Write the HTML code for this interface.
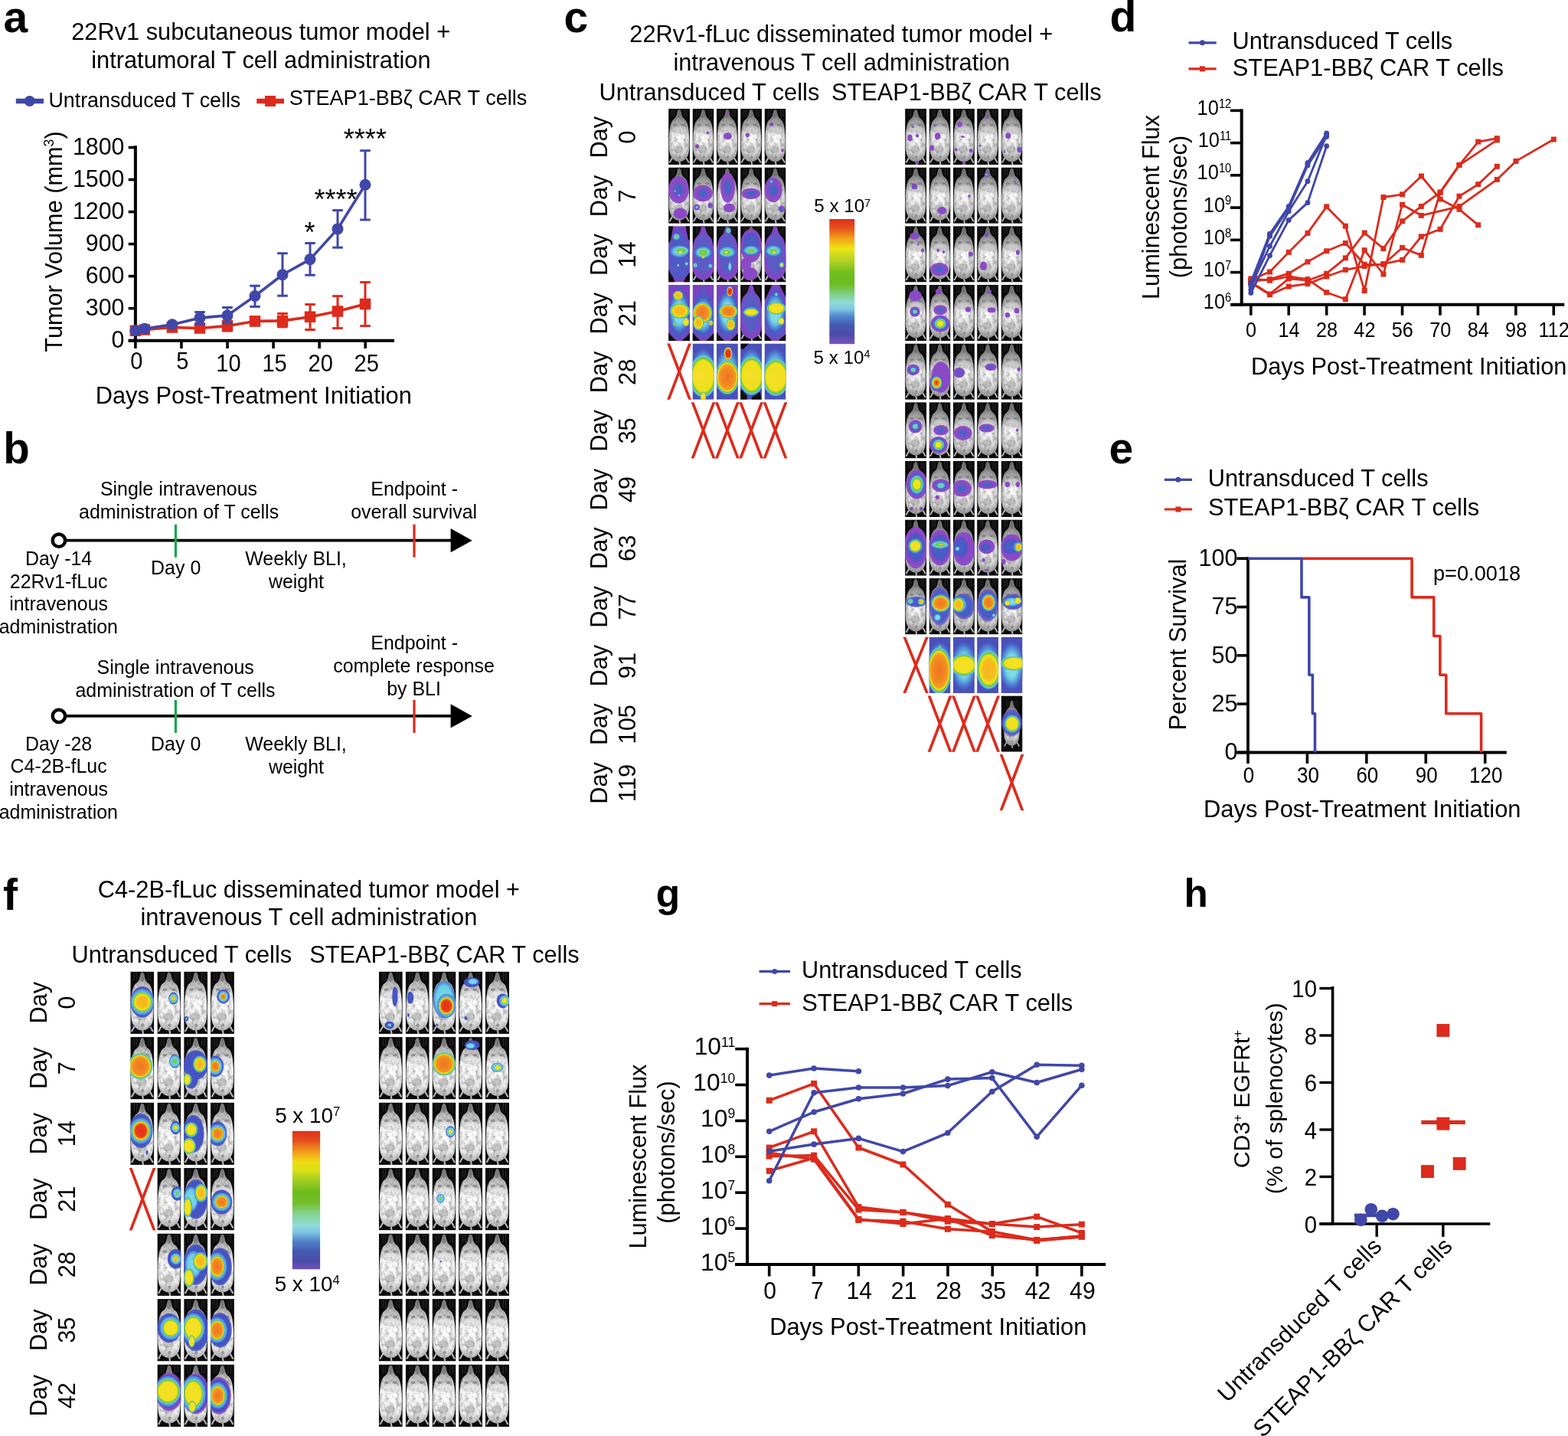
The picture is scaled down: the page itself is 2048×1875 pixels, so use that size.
<!DOCTYPE html>
<html lang="en"><head><meta charset="utf-8"><title>STEAP1 CAR T cell figure</title>
<style>
html,body{margin:0;padding:0;background:#fff}
body{width:2048px;height:1875px;overflow:hidden}
svg{display:block;font-family:'Liberation Sans', Arial, Helvetica, sans-serif}
</style></head><body>
<svg width="2048" height="1875" viewBox="0 0 2048 1875">
<defs><linearGradient id="cb" x1="0" y1="0" x2="0" y2="1"><stop offset="0" stop-color="#de2c1c"/><stop offset="0.07" stop-color="#e4501c"/><stop offset="0.15" stop-color="#f29a1b"/><stop offset="0.235" stop-color="#ede511"/><stop offset="0.33" stop-color="#b4d325"/><stop offset="0.43" stop-color="#70bd1d"/><stop offset="0.52" stop-color="#6cbc22"/><stop offset="0.6" stop-color="#80cf86"/><stop offset="0.67" stop-color="#8fdcd6"/><stop offset="0.72" stop-color="#7fc7e4"/><stop offset="0.78" stop-color="#4f86cc"/><stop offset="0.85" stop-color="#4559b2"/><stop offset="0.92" stop-color="#4a4daa"/><stop offset="1" stop-color="#7b52bd"/></linearGradient><linearGradient id="cbf" x1="0" y1="0" x2="0" y2="1"><stop offset="0" stop-color="#de2c1c"/><stop offset="0.07" stop-color="#e4501c"/><stop offset="0.15" stop-color="#f29a1b"/><stop offset="0.22" stop-color="#f0d912"/><stop offset="0.28" stop-color="#dde216"/><stop offset="0.36" stop-color="#a0cc22"/><stop offset="0.44" stop-color="#6cbc1c"/><stop offset="0.52" stop-color="#72bf2a"/><stop offset="0.6" stop-color="#86d394"/><stop offset="0.68" stop-color="#8fdcd6"/><stop offset="0.73" stop-color="#7fc7e4"/><stop offset="0.8" stop-color="#4f80c8"/><stop offset="0.87" stop-color="#4559b2"/><stop offset="0.94" stop-color="#4a4daa"/><stop offset="1" stop-color="#7250b8"/></linearGradient><radialGradient id="p1"><stop offset="0" stop-color="#8a49c6"/><stop offset="0.85" stop-color="#8a49c6"/><stop offset="1" stop-color="#8a49c6" stop-opacity="0.9"/></radialGradient><radialGradient id="p2"><stop offset="0" stop-color="#4a63c4"/><stop offset="0.35" stop-color="#4a63c4"/><stop offset="0.6" stop-color="#8a49c6"/><stop offset="1" stop-color="#8a49c6" stop-opacity="0.95"/></radialGradient><radialGradient id="p3"><stop offset="0" stop-color="#6cc634"/><stop offset="0.15" stop-color="#74d6a0"/><stop offset="0.3" stop-color="#62cfe2"/><stop offset="0.5" stop-color="#4a63c4"/><stop offset="0.75" stop-color="#8a49c6"/><stop offset="1" stop-color="#8a49c6" stop-opacity="0.95"/></radialGradient><radialGradient id="p4"><stop offset="0" stop-color="#f1e21c"/><stop offset="0.3" stop-color="#f1e21c"/><stop offset="0.42" stop-color="#6cc634"/><stop offset="0.52" stop-color="#62cfe2"/><stop offset="0.68" stop-color="#4a63c4"/><stop offset="0.85" stop-color="#8a49c6"/><stop offset="1" stop-color="#8a49c6" stop-opacity="0.95"/></radialGradient><radialGradient id="p5"><stop offset="0" stop-color="#f6a21e"/><stop offset="0.3" stop-color="#f6a21e"/><stop offset="0.46" stop-color="#f1e21c"/><stop offset="0.56" stop-color="#6cc634"/><stop offset="0.64" stop-color="#62cfe2"/><stop offset="0.76" stop-color="#4a63c4"/><stop offset="0.9" stop-color="#8a49c6"/><stop offset="1" stop-color="#8a49c6" stop-opacity="0.95"/></radialGradient><radialGradient id="p6"><stop offset="0" stop-color="#e3391c"/><stop offset="0.22" stop-color="#ea5a1c"/><stop offset="0.4" stop-color="#f6a21e"/><stop offset="0.52" stop-color="#f1e21c"/><stop offset="0.6" stop-color="#6cc634"/><stop offset="0.67" stop-color="#62cfe2"/><stop offset="0.78" stop-color="#4a63c4"/><stop offset="0.9" stop-color="#8a49c6"/><stop offset="1" stop-color="#8a49c6" stop-opacity="0.95"/></radialGradient><radialGradient id="b1"><stop offset="0" stop-color="#4458c2"/><stop offset="0.85" stop-color="#4458c2"/><stop offset="1" stop-color="#4458c2" stop-opacity="0.9"/></radialGradient><radialGradient id="b2"><stop offset="0" stop-color="#4a63c4"/><stop offset="0.45" stop-color="#4a63c4"/><stop offset="0.68" stop-color="#4458c2"/><stop offset="1" stop-color="#4458c2" stop-opacity="0.95"/></radialGradient><radialGradient id="b3"><stop offset="0" stop-color="#6cc634"/><stop offset="0.2" stop-color="#74d6a0"/><stop offset="0.38" stop-color="#62cfe2"/><stop offset="0.6" stop-color="#4a63c4"/><stop offset="0.8" stop-color="#4458c2"/><stop offset="1" stop-color="#4458c2" stop-opacity="0.95"/></radialGradient><radialGradient id="b4"><stop offset="0" stop-color="#f1e21c"/><stop offset="0.45" stop-color="#f1e21c"/><stop offset="0.56" stop-color="#6cc634"/><stop offset="0.66" stop-color="#62cfe2"/><stop offset="0.8" stop-color="#4a63c4"/><stop offset="0.92" stop-color="#4458c2"/><stop offset="1" stop-color="#4458c2" stop-opacity="0.95"/></radialGradient><radialGradient id="b5"><stop offset="0" stop-color="#f6a21e"/><stop offset="0.4" stop-color="#f6a21e"/><stop offset="0.55" stop-color="#f1e21c"/><stop offset="0.64" stop-color="#6cc634"/><stop offset="0.72" stop-color="#62cfe2"/><stop offset="0.83" stop-color="#4a63c4"/><stop offset="0.94" stop-color="#4458c2"/><stop offset="1" stop-color="#4458c2" stop-opacity="0.95"/></radialGradient><radialGradient id="b6"><stop offset="0" stop-color="#e3391c"/><stop offset="0.3" stop-color="#ea5a1c"/><stop offset="0.5" stop-color="#f6a21e"/><stop offset="0.62" stop-color="#f1e21c"/><stop offset="0.69" stop-color="#6cc634"/><stop offset="0.75" stop-color="#62cfe2"/><stop offset="0.85" stop-color="#4a63c4"/><stop offset="0.94" stop-color="#4458c2"/><stop offset="1" stop-color="#4458c2" stop-opacity="0.95"/></radialGradient><radialGradient id="cy"><stop offset="0" stop-color="#86e2e6"/><stop offset="0.45" stop-color="#7ad8e4"/><stop offset="0.72" stop-color="#4f8fd8"/><stop offset="0.9" stop-color="#4a5cc4" stop-opacity="0.9"/><stop offset="1" stop-color="#4a58c0" stop-opacity="0"/></radialGradient><radialGradient id="bu"><stop offset="0" stop-color="#4a60c8"/><stop offset="0.7" stop-color="#4a5ac4"/><stop offset="0.9" stop-color="#5a50c2" stop-opacity="0.8"/><stop offset="1" stop-color="#6a48c0" stop-opacity="0"/></radialGradient><radialGradient id="h3"><stop offset="0" stop-color="#a4dc3a"/><stop offset="0.45" stop-color="#6cc634"/><stop offset="0.7" stop-color="#72d8b0"/><stop offset="0.85" stop-color="#62cfe2"/><stop offset="1" stop-color="#5aa6e6" stop-opacity="0.6"/></radialGradient><radialGradient id="bu2"><stop offset="0" stop-color="#4658c6"/><stop offset="0.86" stop-color="#4452c2"/><stop offset="1" stop-color="#4450c0" stop-opacity="0.8"/></radialGradient><radialGradient id="cy2"><stop offset="0" stop-color="#7adce6"/><stop offset="0.72" stop-color="#6ccfe6"/><stop offset="1" stop-color="#4a78d4"/></radialGradient><radialGradient id="pu2"><stop offset="0" stop-color="#7c48c2"/><stop offset="0.88" stop-color="#7c48c2"/><stop offset="1" stop-color="#7c48c2" stop-opacity="0.7"/></radialGradient><radialGradient id="h4"><stop offset="0" stop-color="#f6e02a"/><stop offset="0.72" stop-color="#f0e01c"/><stop offset="0.84" stop-color="#6cc634"/><stop offset="0.92" stop-color="#62cfe2"/><stop offset="1" stop-color="#5a9ee0" stop-opacity="0.7"/></radialGradient><radialGradient id="h5"><stop offset="0" stop-color="#f6b022"/><stop offset="0.5" stop-color="#f5c01e"/><stop offset="0.72" stop-color="#f1e21c"/><stop offset="0.84" stop-color="#6cc634"/><stop offset="0.92" stop-color="#62cfe2"/><stop offset="1" stop-color="#5a9ee0" stop-opacity="0.7"/></radialGradient><radialGradient id="h6"><stop offset="0" stop-color="#ee7422"/><stop offset="0.55" stop-color="#f28c20"/><stop offset="0.72" stop-color="#f6a21e"/><stop offset="0.8" stop-color="#f1e21c"/><stop offset="0.88" stop-color="#6cc634"/><stop offset="0.94" stop-color="#62cfe2"/><stop offset="1" stop-color="#5a9ee0" stop-opacity="0.7"/></radialGradient><radialGradient id="h7"><stop offset="0" stop-color="#e2301c"/><stop offset="0.6" stop-color="#e8401c"/><stop offset="0.75" stop-color="#f6a21e"/><stop offset="0.83" stop-color="#f1e21c"/><stop offset="0.9" stop-color="#6cc634"/><stop offset="0.95" stop-color="#62cfe2"/><stop offset="1" stop-color="#5a9ee0" stop-opacity="0.7"/></radialGradient><radialGradient id="mg" cx="0.5" cy="0.56" r="0.72"><stop offset="0" stop-color="#ffffff"/><stop offset="0.6" stop-color="#f2f2f2"/><stop offset="0.82" stop-color="#d0d0d0"/><stop offset="1" stop-color="#8c8c8c"/></radialGradient><filter id="bl" x="-10%" y="-10%" width="120%" height="120%"><feGaussianBlur stdDeviation="2.2"/></filter><filter id="bl2" x="-20%" y="-20%" width="140%" height="140%"><feGaussianBlur stdDeviation="3.5"/></filter><filter id="tex" x="-5%" y="-5%" width="110%" height="110%"><feTurbulence type="fractalNoise" baseFrequency="0.07 0.05" numOctaves="3" seed="7" result="n"/><feColorMatrix in="n" type="matrix" values="0 0 0 0 0.2  0 0 0 0 0.2  0 0 0 0 0.2  1.9 0 0 0 -0.82" result="a"/><feComposite in="a" in2="SourceAlpha" operator="in" result="d"/><feMerge><feMergeNode in="SourceGraphic"/><feMergeNode in="d"/></feMerge><feGaussianBlur stdDeviation="1.8"/></filter><linearGradient id="shade" x1="0" y1="0" x2="0" y2="1"><stop offset="0" stop-color="#000" stop-opacity="0.5"/><stop offset="0.32" stop-color="#000" stop-opacity="0.22"/><stop offset="0.5" stop-color="#000" stop-opacity="0"/><stop offset="0.8" stop-color="#000" stop-opacity="0.05"/><stop offset="1" stop-color="#000" stop-opacity="0.3"/></linearGradient><radialGradient id="mg2" cx="0.5" cy="0.56" r="0.66"><stop offset="0" stop-color="#ffffff"/><stop offset="0.5" stop-color="#ececec"/><stop offset="0.8" stop-color="#bcbcbc"/><stop offset="1" stop-color="#6c6c6c"/></radialGradient><linearGradient id="shade2" x1="0" y1="0" x2="0" y2="1"><stop offset="0" stop-color="#000" stop-opacity="0.38"/><stop offset="0.3" stop-color="#000" stop-opacity="0.14"/><stop offset="0.46" stop-color="#000" stop-opacity="0"/><stop offset="0.82" stop-color="#000" stop-opacity="0.03"/><stop offset="1" stop-color="#000" stop-opacity="0.25"/></linearGradient><symbol id="m" viewBox="0 0 100 262" preserveAspectRatio="none"><rect width="100" height="262" fill="#0b0b0b"/><rect x="16" y="2" width="2.5" height="36" fill="#333"/><rect x="26" y="2" width="2.5" height="36" fill="#333"/><rect x="74" y="2" width="2.5" height="36" fill="#333"/><rect x="84" y="2" width="2.5" height="36" fill="#333"/><g filter="url(#tex)"><path d="M20 226 L6 250 M80 226 L94 250 M50 240 L54 262" stroke="#bdbdbd" stroke-width="7" fill="none" stroke-linecap="round"/><path d="M50 4 C45 4 42 12 40 24 C38 38 32 44 24 50 C12 60 6 84 4 116 C2 150 1 190 7 212 C13 233 32 247 50 248 C68 247 87 233 93 212 C99 190 98 150 96 116 C94 84 88 60 76 50 C68 44 62 38 60 24 C58 12 55 4 50 4 Z" fill="url(#mg2)"/><path d="M50 4 C45 4 42 12 40 24 C38 38 32 44 24 50 C12 60 6 84 4 116 C2 150 1 190 7 212 C13 233 32 247 50 248 C68 247 87 233 93 212 C99 190 98 150 96 116 C94 84 88 60 76 50 C68 44 62 38 60 24 C58 12 55 4 50 4 Z" fill="url(#shade)"/><ellipse cx="50" cy="24" rx="10" ry="20" fill="#6e6e6e" opacity="0.7"/><ellipse cx="32" cy="76" rx="9" ry="6" fill="#5a5a5a" opacity="0.55"/><ellipse cx="68" cy="76" rx="9" ry="6" fill="#5a5a5a" opacity="0.55"/><ellipse cx="46" cy="190" rx="22" ry="16" fill="#8a8a8a" opacity="0.45"/><ellipse cx="52" cy="226" rx="7" ry="7" fill="#7a7a7a" opacity="0.6"/></g></symbol><symbol id="mf" viewBox="0 0 100 262" preserveAspectRatio="none"><rect width="100" height="262" fill="#0b0b0b"/><rect x="16" y="2" width="2.5" height="36" fill="#333"/><rect x="26" y="2" width="2.5" height="36" fill="#333"/><rect x="74" y="2" width="2.5" height="36" fill="#333"/><rect x="84" y="2" width="2.5" height="36" fill="#333"/><g filter="url(#tex)"><path d="M20 226 L6 250 M80 226 L94 250 M50 240 L54 262" stroke="#bdbdbd" stroke-width="7" fill="none" stroke-linecap="round"/><path d="M50 4 C45 4 42 12 40 24 C38 38 32 44 24 50 C12 60 6 84 4 116 C2 150 1 190 7 212 C13 233 32 247 50 248 C68 247 87 233 93 212 C99 190 98 150 96 116 C94 84 88 60 76 50 C68 44 62 38 60 24 C58 12 55 4 50 4 Z" fill="url(#mg)"/><path d="M50 4 C45 4 42 12 40 24 C38 38 32 44 24 50 C12 60 6 84 4 116 C2 150 1 190 7 212 C13 233 32 247 50 248 C68 247 87 233 93 212 C99 190 98 150 96 116 C94 84 88 60 76 50 C68 44 62 38 60 24 C58 12 55 4 50 4 Z" fill="url(#shade2)"/><ellipse cx="50" cy="24" rx="10" ry="20" fill="#6e6e6e" opacity="0.7"/><ellipse cx="32" cy="76" rx="9" ry="6" fill="#5a5a5a" opacity="0.55"/><ellipse cx="68" cy="76" rx="9" ry="6" fill="#5a5a5a" opacity="0.55"/><ellipse cx="46" cy="190" rx="22" ry="16" fill="#8a8a8a" opacity="0.45"/><ellipse cx="52" cy="226" rx="7" ry="7" fill="#7a7a7a" opacity="0.6"/></g></symbol></defs>
<rect width="2048" height="1875" fill="#fff"/>
<text x="4.50" y="41.80" font-size="57" font-weight="bold">a</text><text x="4.20" y="604.80" font-size="56.5" font-weight="bold">b</text><text x="736.50" y="42.00" font-size="57" font-weight="bold">c</text><text x="1449.50" y="41.30" font-size="57" font-weight="bold">d</text><text x="1448.50" y="605.00" font-size="57" font-weight="bold">e</text><text x="4.00" y="1188.20" font-size="57" font-weight="bold">f</text><text x="856.80" y="1183.70" font-size="51.5" font-weight="bold">g</text><text x="1546.40" y="1183.60" font-size="51.2" font-weight="bold">h</text><text x="340.70" y="51.80" font-size="30.75" text-anchor="middle">22Rv1 subcutaneous tumor model +</text><text x="340.90" y="88.80" font-size="30.75" text-anchor="middle">intratumoral T cell administration</text><line x1="20.80" y1="132.00" x2="57.00" y2="132.00" stroke="#4047a8" stroke-width="6.5"/><circle cx="38.70" cy="132.00" r="7.00" fill="#4047a8"/><text x="63.50" y="140.20" font-size="26.8">Untransduced T cells</text><line x1="335.30" y1="132.00" x2="371.00" y2="132.00" stroke="#dc2b1c" stroke-width="6.5"/><rect x="346.00" y="125.00" width="14.00" height="14.00" fill="#dc2b1c"/><text x="377.80" y="137.30" font-size="27.1">STEAP1-BBζ CAR T cells</text><line x1="176.90" y1="190.20" x2="176.90" y2="446.70" stroke="#000" stroke-width="4"/><line x1="167.70" y1="444.70" x2="515.00" y2="444.70" stroke="#000" stroke-width="4"/><line x1="167.70" y1="444.70" x2="176.90" y2="444.70" stroke="#000" stroke-width="3.6"/><text transform="translate(162.40 454.30) scale(0.945 1)" font-size="32.1" text-anchor="end">0</text><line x1="167.70" y1="402.67" x2="176.90" y2="402.67" stroke="#000" stroke-width="3.6"/><text transform="translate(162.40 412.27) scale(0.945 1)" font-size="32.1" text-anchor="end">300</text><line x1="167.70" y1="360.64" x2="176.90" y2="360.64" stroke="#000" stroke-width="3.6"/><text transform="translate(162.40 370.24) scale(0.945 1)" font-size="32.1" text-anchor="end">600</text><line x1="167.70" y1="318.61" x2="176.90" y2="318.61" stroke="#000" stroke-width="3.6"/><text transform="translate(162.40 328.21) scale(0.945 1)" font-size="32.1" text-anchor="end">900</text><line x1="167.70" y1="276.58" x2="176.90" y2="276.58" stroke="#000" stroke-width="3.6"/><text transform="translate(162.40 286.18) scale(0.945 1)" font-size="32.1" text-anchor="end">1200</text><line x1="167.70" y1="234.55" x2="176.90" y2="234.55" stroke="#000" stroke-width="3.6"/><text transform="translate(162.40 244.15) scale(0.945 1)" font-size="32.1" text-anchor="end">1500</text><line x1="167.70" y1="192.52" x2="176.90" y2="192.52" stroke="#000" stroke-width="3.6"/><text transform="translate(162.40 202.12) scale(0.945 1)" font-size="32.1" text-anchor="end">1800</text><line x1="176.90" y1="444.70" x2="176.90" y2="455.00" stroke="#000" stroke-width="3.6"/><text transform="translate(178.40 481.80) scale(0.9 1)" font-size="32.3" text-anchor="middle">0</text><line x1="236.96" y1="444.70" x2="236.96" y2="455.00" stroke="#000" stroke-width="3.6"/><text transform="translate(238.46 481.80) scale(0.9 1)" font-size="32.3" text-anchor="middle">5</text><line x1="297.02" y1="444.70" x2="297.02" y2="455.00" stroke="#000" stroke-width="3.6"/><text transform="translate(298.52 485.40) scale(0.9 1)" font-size="32.3" text-anchor="middle">10</text><line x1="357.08" y1="444.70" x2="357.08" y2="455.00" stroke="#000" stroke-width="3.6"/><text transform="translate(358.58 485.40) scale(0.9 1)" font-size="32.3" text-anchor="middle">15</text><line x1="417.14" y1="444.70" x2="417.14" y2="455.00" stroke="#000" stroke-width="3.6"/><text transform="translate(418.64 485.40) scale(0.9 1)" font-size="32.3" text-anchor="middle">20</text><line x1="477.20" y1="444.70" x2="477.20" y2="455.00" stroke="#000" stroke-width="3.6"/><text transform="translate(478.70 485.40) scale(0.9 1)" font-size="32.3" text-anchor="middle">25</text><text x="331.30" y="526.80" font-size="30.8" text-anchor="middle">Days Post-Treatment Initiation</text><text transform="translate(80.90 315.50) rotate(-90)" font-size="30.7" text-anchor="middle">Tumor Volume (mm<tspan font-size="58%" dy="-0.6em">3</tspan><tspan dy="0.348em">)</tspan></text><line x1="261.00" y1="424.00" x2="261.00" y2="433.00" stroke="#dc2b1c" stroke-width="3"/><line x1="254.20" y1="424.00" x2="267.80" y2="424.00" stroke="#dc2b1c" stroke-width="3"/><line x1="254.20" y1="433.00" x2="267.80" y2="433.00" stroke="#dc2b1c" stroke-width="3"/><line x1="297.00" y1="419.00" x2="297.00" y2="432.00" stroke="#dc2b1c" stroke-width="3"/><line x1="290.20" y1="419.00" x2="303.80" y2="419.00" stroke="#dc2b1c" stroke-width="3"/><line x1="290.20" y1="432.00" x2="303.80" y2="432.00" stroke="#dc2b1c" stroke-width="3"/><line x1="333.00" y1="414.00" x2="333.00" y2="425.00" stroke="#dc2b1c" stroke-width="3"/><line x1="326.20" y1="414.00" x2="339.80" y2="414.00" stroke="#dc2b1c" stroke-width="3"/><line x1="326.20" y1="425.00" x2="339.80" y2="425.00" stroke="#dc2b1c" stroke-width="3"/><line x1="369.00" y1="409.40" x2="369.00" y2="426.80" stroke="#dc2b1c" stroke-width="3"/><line x1="362.20" y1="409.40" x2="375.80" y2="409.40" stroke="#dc2b1c" stroke-width="3"/><line x1="362.20" y1="426.80" x2="375.80" y2="426.80" stroke="#dc2b1c" stroke-width="3"/><line x1="405.00" y1="397.50" x2="405.00" y2="430.50" stroke="#dc2b1c" stroke-width="3"/><line x1="398.20" y1="397.50" x2="411.80" y2="397.50" stroke="#dc2b1c" stroke-width="3"/><line x1="398.20" y1="430.50" x2="411.80" y2="430.50" stroke="#dc2b1c" stroke-width="3"/><line x1="441.00" y1="386.60" x2="441.00" y2="428.50" stroke="#dc2b1c" stroke-width="3"/><line x1="434.20" y1="386.60" x2="447.80" y2="386.60" stroke="#dc2b1c" stroke-width="3"/><line x1="434.20" y1="428.50" x2="447.80" y2="428.50" stroke="#dc2b1c" stroke-width="3"/><line x1="477.00" y1="368.50" x2="477.00" y2="425.60" stroke="#dc2b1c" stroke-width="3"/><line x1="470.20" y1="368.50" x2="483.80" y2="368.50" stroke="#dc2b1c" stroke-width="3"/><line x1="470.20" y1="425.60" x2="483.80" y2="425.60" stroke="#dc2b1c" stroke-width="3"/><polyline points="176.9,431.8 188.9,430.5 224.9,427.5 261.0,428.5 297.0,425.6 333.0,419.4 369.0,418.9 405.0,413.7 441.0,406.5 477.0,397.0" fill="none" stroke="#dc2b1c" stroke-width="3.6" stroke-linejoin="round"/><rect x="169.65" y="424.55" width="14.50" height="14.50" fill="#dc2b1c"/><rect x="181.65" y="423.25" width="14.50" height="14.50" fill="#dc2b1c"/><rect x="217.65" y="420.25" width="14.50" height="14.50" fill="#dc2b1c"/><rect x="253.75" y="421.25" width="14.50" height="14.50" fill="#dc2b1c"/><rect x="289.75" y="418.35" width="14.50" height="14.50" fill="#dc2b1c"/><rect x="325.75" y="412.15" width="14.50" height="14.50" fill="#dc2b1c"/><rect x="361.75" y="411.65" width="14.50" height="14.50" fill="#dc2b1c"/><rect x="397.75" y="406.45" width="14.50" height="14.50" fill="#dc2b1c"/><rect x="433.75" y="399.25" width="14.50" height="14.50" fill="#dc2b1c"/><rect x="469.75" y="389.75" width="14.50" height="14.50" fill="#dc2b1c"/><line x1="261.00" y1="407.50" x2="261.00" y2="423.00" stroke="#4047a8" stroke-width="3"/><line x1="254.20" y1="407.50" x2="267.80" y2="407.50" stroke="#4047a8" stroke-width="3"/><line x1="254.20" y1="423.00" x2="267.80" y2="423.00" stroke="#4047a8" stroke-width="3"/><line x1="297.00" y1="401.50" x2="297.00" y2="421.80" stroke="#4047a8" stroke-width="3"/><line x1="290.20" y1="401.50" x2="303.80" y2="401.50" stroke="#4047a8" stroke-width="3"/><line x1="290.20" y1="421.80" x2="303.80" y2="421.80" stroke="#4047a8" stroke-width="3"/><line x1="333.00" y1="373.20" x2="333.00" y2="400.40" stroke="#4047a8" stroke-width="3"/><line x1="326.20" y1="373.20" x2="339.80" y2="373.20" stroke="#4047a8" stroke-width="3"/><line x1="326.20" y1="400.40" x2="339.80" y2="400.40" stroke="#4047a8" stroke-width="3"/><line x1="369.00" y1="330.75" x2="369.00" y2="386.20" stroke="#4047a8" stroke-width="3"/><line x1="362.20" y1="330.75" x2="375.80" y2="330.75" stroke="#4047a8" stroke-width="3"/><line x1="362.20" y1="386.20" x2="375.80" y2="386.20" stroke="#4047a8" stroke-width="3"/><line x1="405.00" y1="317.50" x2="405.00" y2="359.20" stroke="#4047a8" stroke-width="3"/><line x1="398.20" y1="317.50" x2="411.80" y2="317.50" stroke="#4047a8" stroke-width="3"/><line x1="398.20" y1="359.20" x2="411.80" y2="359.20" stroke="#4047a8" stroke-width="3"/><line x1="441.00" y1="274.60" x2="441.00" y2="323.20" stroke="#4047a8" stroke-width="3"/><line x1="434.20" y1="274.60" x2="447.80" y2="274.60" stroke="#4047a8" stroke-width="3"/><line x1="434.20" y1="323.20" x2="447.80" y2="323.20" stroke="#4047a8" stroke-width="3"/><line x1="477.00" y1="196.70" x2="477.00" y2="287.00" stroke="#4047a8" stroke-width="3"/><line x1="470.20" y1="196.70" x2="483.80" y2="196.70" stroke="#4047a8" stroke-width="3"/><line x1="470.20" y1="287.00" x2="483.80" y2="287.00" stroke="#4047a8" stroke-width="3"/><polyline points="176.9,431.8 188.9,429.3 224.9,423.8 261.0,415.1 297.0,411.9 333.0,386.5 369.0,358.8 405.0,338.6 441.0,298.9 477.0,241.3" fill="none" stroke="#4047a8" stroke-width="3.6" stroke-linejoin="round"/><circle cx="176.90" cy="431.80" r="7.50" fill="#4047a8"/><circle cx="188.90" cy="429.30" r="7.50" fill="#4047a8"/><circle cx="224.90" cy="423.80" r="7.50" fill="#4047a8"/><circle cx="261.00" cy="415.10" r="7.50" fill="#4047a8"/><circle cx="297.00" cy="411.90" r="7.50" fill="#4047a8"/><circle cx="333.00" cy="386.50" r="7.50" fill="#4047a8"/><circle cx="369.00" cy="358.80" r="7.50" fill="#4047a8"/><circle cx="405.00" cy="338.60" r="7.50" fill="#4047a8"/><circle cx="441.00" cy="298.90" r="7.50" fill="#4047a8"/><circle cx="477.00" cy="241.30" r="7.50" fill="#4047a8"/><text x="476.80" y="194.20" font-size="36" text-anchor="middle">****</text><text x="438.40" y="272.80" font-size="36" text-anchor="middle">****</text><text x="404.50" y="315.60" font-size="36" text-anchor="middle">*</text><line x1="86.00" y1="705.70" x2="592.00" y2="705.70" stroke="#000" stroke-width="3.8"/><circle cx="76.9" cy="705.7" r="8.2" fill="#fff" stroke="#000" stroke-width="4.4"/><path d="M588.6 690.1 L616.8 705.7 L588.6 721.3000000000001 Z" fill="#000"/><line x1="229.40" y1="684.70" x2="229.40" y2="727.70" stroke="#14a84b" stroke-width="3.2"/><line x1="541.00" y1="684.70" x2="541.00" y2="727.70" stroke="#dc2b1c" stroke-width="3.2"/><text x="233.50" y="647.30" font-size="24.95" text-anchor="middle">Single intravenous</text><text x="233.60" y="677.00" font-size="24.95" text-anchor="middle">administration of T cells</text><text x="541.20" y="647.30" font-size="24.95" text-anchor="middle">Endpoint -</text><text x="540.60" y="677.00" font-size="24.95" text-anchor="middle">overall survival</text><text x="229.70" y="749.60" font-size="24.95" text-anchor="middle">Day 0</text><text x="386.50" y="738.40" font-size="24.95" text-anchor="middle">Weekly BLI,</text><text x="387.00" y="768.20" font-size="24.95" text-anchor="middle">weight</text><text x="76.60" y="738.00" font-size="24.95" text-anchor="middle">Day -14</text><text x="76.60" y="767.70" font-size="24.95" text-anchor="middle">22Rv1-fLuc</text><text x="76.60" y="797.20" font-size="24.95" text-anchor="middle">intravenous</text><text x="76.30" y="827.40" font-size="24.95" text-anchor="middle">administration</text><line x1="86.00" y1="934.90" x2="592.00" y2="934.90" stroke="#000" stroke-width="3.8"/><circle cx="76.9" cy="934.9" r="8.2" fill="#fff" stroke="#000" stroke-width="4.4"/><path d="M588.6 919.3 L616.8 934.9 L588.6 950.5 Z" fill="#000"/><line x1="229.40" y1="913.90" x2="229.40" y2="956.90" stroke="#14a84b" stroke-width="3.2"/><line x1="541.00" y1="913.90" x2="541.00" y2="956.90" stroke="#dc2b1c" stroke-width="3.2"/><text x="229.20" y="879.60" font-size="24.95" text-anchor="middle">Single intravenous</text><text x="229.00" y="909.90" font-size="24.95" text-anchor="middle">administration of T cells</text><text x="541.20" y="847.80" font-size="24.95" text-anchor="middle">Endpoint -</text><text x="540.60" y="877.90" font-size="24.95" text-anchor="middle">complete response</text><text x="540.50" y="907.80" font-size="24.95" text-anchor="middle">by BLI</text><text x="229.70" y="979.60" font-size="24.95" text-anchor="middle">Day 0</text><text x="386.50" y="979.60" font-size="24.95" text-anchor="middle">Weekly BLI,</text><text x="387.00" y="1009.60" font-size="24.95" text-anchor="middle">weight</text><text x="76.60" y="979.60" font-size="24.95" text-anchor="middle">Day -28</text><text x="76.60" y="1009.30" font-size="24.95" text-anchor="middle">C4-2B-fLuc</text><text x="76.60" y="1038.80" font-size="24.95" text-anchor="middle">intravenous</text><text x="76.30" y="1069.00" font-size="24.95" text-anchor="middle">administration</text><text x="1098.80" y="55.10" font-size="30.75" text-anchor="middle">22Rv1-fLuc disseminated tumor model +</text><text x="1099.30" y="91.80" font-size="30.75" text-anchor="middle">intravenous T cell administration</text><text x="926.40" y="131.40" font-size="30.75" text-anchor="middle">Untransduced T cells</text><text x="1262.30" y="131.40" font-size="30.75" text-anchor="middle">STEAP1-BBζ CAR T cells</text><text transform="translate(793.40 179.25) rotate(-90)" font-size="30.75" text-anchor="middle">Day</text><text transform="translate(830.40 179.25) rotate(-90)" font-size="30.75" text-anchor="middle">0</text><text transform="translate(793.40 255.90) rotate(-90)" font-size="30.75" text-anchor="middle">Day</text><text transform="translate(830.40 255.90) rotate(-90)" font-size="30.75" text-anchor="middle">7</text><text transform="translate(793.40 332.55) rotate(-90)" font-size="30.75" text-anchor="middle">Day</text><text transform="translate(830.40 332.55) rotate(-90)" font-size="30.75" text-anchor="middle">14</text><text transform="translate(793.40 409.20) rotate(-90)" font-size="30.75" text-anchor="middle">Day</text><text transform="translate(830.40 409.20) rotate(-90)" font-size="30.75" text-anchor="middle">21</text><text transform="translate(793.40 485.85) rotate(-90)" font-size="30.75" text-anchor="middle">Day</text><text transform="translate(830.40 485.85) rotate(-90)" font-size="30.75" text-anchor="middle">28</text><text transform="translate(793.40 562.50) rotate(-90)" font-size="30.75" text-anchor="middle">Day</text><text transform="translate(830.40 562.50) rotate(-90)" font-size="30.75" text-anchor="middle">35</text><text transform="translate(793.40 639.15) rotate(-90)" font-size="30.75" text-anchor="middle">Day</text><text transform="translate(830.40 639.15) rotate(-90)" font-size="30.75" text-anchor="middle">49</text><text transform="translate(793.40 715.80) rotate(-90)" font-size="30.75" text-anchor="middle">Day</text><text transform="translate(830.40 715.80) rotate(-90)" font-size="30.75" text-anchor="middle">63</text><text transform="translate(793.40 792.45) rotate(-90)" font-size="30.75" text-anchor="middle">Day</text><text transform="translate(830.40 792.45) rotate(-90)" font-size="30.75" text-anchor="middle">77</text><text transform="translate(793.40 869.10) rotate(-90)" font-size="30.75" text-anchor="middle">Day</text><text transform="translate(830.40 869.10) rotate(-90)" font-size="30.75" text-anchor="middle">91</text><text transform="translate(793.40 945.75) rotate(-90)" font-size="30.75" text-anchor="middle">Day</text><text transform="translate(830.40 945.75) rotate(-90)" font-size="30.75" text-anchor="middle">105</text><text transform="translate(793.40 1022.40) rotate(-90)" font-size="30.75" text-anchor="middle">Day</text><text transform="translate(830.40 1022.40) rotate(-90)" font-size="30.75" text-anchor="middle">119</text><rect x="1083.3" y="286" width="32.9" height="163.2" fill="url(#cb)"/><text x="1100.20" y="277.30" font-size="24.2" text-anchor="middle">5 x 10<tspan font-size="60%" dy="-0.53em">7</tspan></text><text x="1099.60" y="474.50" font-size="24.2" text-anchor="middle">5 x 10<tspan font-size="60%" dy="-0.53em">4</tspan></text><line x1="1552.50" y1="55.80" x2="1588.70" y2="55.80" stroke="#4047a8" stroke-width="3.2"/><circle cx="1570.40" cy="55.80" r="3.50" fill="#4047a8"/><text x="1609.50" y="63.90" font-size="30.75">Untransduced T cells</text><line x1="1552.50" y1="89.90" x2="1588.70" y2="89.90" stroke="#dc2b1c" stroke-width="3.2"/><rect x="1566.90" y="86.40" width="7.00" height="7.00" fill="#dc2b1c"/><text x="1609.70" y="98.60" font-size="30.75" textLength="354.3" lengthAdjust="spacingAndGlyphs">STEAP1-BBζ CAR T cells</text><line x1="1621.70" y1="142.60" x2="1621.70" y2="399.85" stroke="#000" stroke-width="4"/><line x1="1608.30" y1="397.85" x2="2043.30" y2="397.85" stroke="#000" stroke-width="4"/><line x1="1607.00" y1="397.85" x2="1621.70" y2="397.85" stroke="#000" stroke-width="3.6"/><text transform="translate(1608.30 403.35) scale(0.915 1)" font-size="27.8" text-anchor="end">10<tspan font-size="58%" dy="-0.57em">6</tspan></text><line x1="1607.00" y1="355.60" x2="1621.70" y2="355.60" stroke="#000" stroke-width="3.6"/><text transform="translate(1608.30 361.10) scale(0.915 1)" font-size="27.8" text-anchor="end">10<tspan font-size="58%" dy="-0.57em">7</tspan></text><line x1="1607.00" y1="313.35" x2="1621.70" y2="313.35" stroke="#000" stroke-width="3.6"/><text transform="translate(1608.30 318.85) scale(0.915 1)" font-size="27.8" text-anchor="end">10<tspan font-size="58%" dy="-0.57em">8</tspan></text><line x1="1607.00" y1="271.10" x2="1621.70" y2="271.10" stroke="#000" stroke-width="3.6"/><text transform="translate(1608.30 276.60) scale(0.915 1)" font-size="27.8" text-anchor="end">10<tspan font-size="58%" dy="-0.57em">9</tspan></text><line x1="1607.00" y1="228.85" x2="1621.70" y2="228.85" stroke="#000" stroke-width="3.6"/><text transform="translate(1608.30 234.35) scale(0.915 1)" font-size="27.8" text-anchor="end">10<tspan font-size="58%" dy="-0.57em">10</tspan></text><line x1="1607.00" y1="186.60" x2="1621.70" y2="186.60" stroke="#000" stroke-width="3.6"/><text transform="translate(1608.30 192.10) scale(0.915 1)" font-size="27.8" text-anchor="end">10<tspan font-size="58%" dy="-0.57em">11</tspan></text><line x1="1607.00" y1="144.35" x2="1621.70" y2="144.35" stroke="#000" stroke-width="3.6"/><text transform="translate(1608.30 149.85) scale(0.915 1)" font-size="27.8" text-anchor="end">10<tspan font-size="58%" dy="-0.57em">12</tspan></text><line x1="1633.80" y1="397.85" x2="1633.80" y2="411.70" stroke="#000" stroke-width="3.6"/><text transform="translate(1634.10 440.00) scale(0.89 1)" font-size="28.4" text-anchor="middle">0</text><line x1="1683.23" y1="397.85" x2="1683.23" y2="411.70" stroke="#000" stroke-width="3.6"/><text transform="translate(1683.53 440.00) scale(0.89 1)" font-size="28.4" text-anchor="middle">14</text><line x1="1732.67" y1="397.85" x2="1732.67" y2="411.70" stroke="#000" stroke-width="3.6"/><text transform="translate(1732.97 440.00) scale(0.89 1)" font-size="28.4" text-anchor="middle">28</text><line x1="1782.10" y1="397.85" x2="1782.10" y2="411.70" stroke="#000" stroke-width="3.6"/><text transform="translate(1782.40 440.00) scale(0.89 1)" font-size="28.4" text-anchor="middle">42</text><line x1="1831.54" y1="397.85" x2="1831.54" y2="411.70" stroke="#000" stroke-width="3.6"/><text transform="translate(1831.84 440.00) scale(0.89 1)" font-size="28.4" text-anchor="middle">56</text><line x1="1880.97" y1="397.85" x2="1880.97" y2="411.70" stroke="#000" stroke-width="3.6"/><text transform="translate(1881.27 440.00) scale(0.89 1)" font-size="28.4" text-anchor="middle">70</text><line x1="1930.40" y1="397.85" x2="1930.40" y2="411.70" stroke="#000" stroke-width="3.6"/><text transform="translate(1930.70 440.00) scale(0.89 1)" font-size="28.4" text-anchor="middle">84</text><line x1="1979.84" y1="397.85" x2="1979.84" y2="411.70" stroke="#000" stroke-width="3.6"/><text transform="translate(1980.14 440.00) scale(0.89 1)" font-size="28.4" text-anchor="middle">98</text><line x1="2029.27" y1="397.85" x2="2029.27" y2="411.70" stroke="#000" stroke-width="3.6"/><text transform="translate(2029.57 440.00) scale(0.89 1)" font-size="28.4" text-anchor="middle">112</text><text x="1634.00" y="488.90" font-size="30.75">Days Post-Treatment Initiation</text><text transform="translate(1513.60 270.50) rotate(-90)" font-size="30.75" text-anchor="middle">Luminescent Flux</text><text transform="translate(1550.40 270.00) rotate(-90)" font-size="30.75" text-anchor="middle">(photons/sec)</text><polyline points="1633.8,365.4 1658.5,355.0 1683.2,329.4 1707.9,304.4 1732.6,269.9 1757.4,295.2 1782.2,379.6 1806.9,257.5 1831.6,253.8 1856.4,230.0 1881.1,260.0 1906.0,273.3 1930.7,293.8" fill="none" stroke="#dc2b1c" stroke-width="2.8" stroke-linejoin="round"/><polyline points="1633.8,367.6 1658.5,364.7 1683.2,357.2 1707.9,341.9 1732.6,327.8 1757.4,317.5 1782.2,345.3 1806.9,345.3 1831.6,323.5 1856.3,333.4 1881.1,251.1 1906.0,215.6 1930.7,185.1 1955.3,180.7" fill="none" stroke="#dc2b1c" stroke-width="2.8" stroke-linejoin="round"/><polyline points="1633.8,368.4 1658.5,384.0 1683.2,363.9 1707.9,366.2 1732.6,357.2 1757.4,336.8 1782.2,304.1 1806.9,324.5 1831.6,288.8 1856.3,269.4 1881.1,251.1 1906.0,215.6 1955.3,182.9" fill="none" stroke="#dc2b1c" stroke-width="2.8" stroke-linejoin="round"/><polyline points="1633.8,369.1 1658.5,384.8 1683.2,374.0 1707.9,370.6 1732.6,361.0 1757.4,352.3 1782.2,347.6 1806.9,344.6 1831.6,339.4 1856.3,308.9 1881.1,299.3 1906.0,256.2 1930.7,240.7 1955.3,217.3" fill="none" stroke="#dc2b1c" stroke-width="2.8" stroke-linejoin="round"/><polyline points="1633.8,363.9 1658.5,366.2 1683.2,361.0 1707.9,364.7 1732.6,381.8 1757.4,390.7 1782.2,326.7 1806.9,358.0 1831.6,267.2 1856.3,281.3 1906.0,269.6 1955.3,234.4 1980.0,210.4 2029.3,182.0" fill="none" stroke="#dc2b1c" stroke-width="2.8" stroke-linejoin="round"/><rect x="1630.34" y="361.92" width="7.00" height="7.00" fill="#dc2b1c"/><rect x="1655.04" y="351.50" width="7.00" height="7.00" fill="#dc2b1c"/><rect x="1679.74" y="325.90" width="7.00" height="7.00" fill="#dc2b1c"/><rect x="1704.45" y="300.90" width="7.00" height="7.00" fill="#dc2b1c"/><rect x="1729.15" y="266.38" width="7.00" height="7.00" fill="#dc2b1c"/><rect x="1753.85" y="291.68" width="7.00" height="7.00" fill="#dc2b1c"/><rect x="1778.70" y="376.05" width="7.00" height="7.00" fill="#dc2b1c"/><rect x="1803.40" y="254.03" width="7.00" height="7.00" fill="#dc2b1c"/><rect x="1828.11" y="250.31" width="7.00" height="7.00" fill="#dc2b1c"/><rect x="1852.94" y="226.50" width="7.00" height="7.00" fill="#dc2b1c"/><rect x="1877.61" y="256.50" width="7.00" height="7.00" fill="#dc2b1c"/><rect x="1902.50" y="269.83" width="7.00" height="7.00" fill="#dc2b1c"/><rect x="1927.17" y="290.28" width="7.00" height="7.00" fill="#dc2b1c"/><rect x="1630.34" y="364.15" width="7.00" height="7.00" fill="#dc2b1c"/><rect x="1655.04" y="361.17" width="7.00" height="7.00" fill="#dc2b1c"/><rect x="1679.74" y="353.73" width="7.00" height="7.00" fill="#dc2b1c"/><rect x="1704.45" y="338.40" width="7.00" height="7.00" fill="#dc2b1c"/><rect x="1729.15" y="324.27" width="7.00" height="7.00" fill="#dc2b1c"/><rect x="1753.85" y="314.00" width="7.00" height="7.00" fill="#dc2b1c"/><rect x="1778.70" y="341.83" width="7.00" height="7.00" fill="#dc2b1c"/><rect x="1803.40" y="341.83" width="7.00" height="7.00" fill="#dc2b1c"/><rect x="1828.11" y="319.95" width="7.00" height="7.00" fill="#dc2b1c"/><rect x="1852.81" y="329.92" width="7.00" height="7.00" fill="#dc2b1c"/><rect x="1877.61" y="247.61" width="7.00" height="7.00" fill="#dc2b1c"/><rect x="1902.50" y="212.06" width="7.00" height="7.00" fill="#dc2b1c"/><rect x="1927.17" y="181.61" width="7.00" height="7.00" fill="#dc2b1c"/><rect x="1951.83" y="177.17" width="7.00" height="7.00" fill="#dc2b1c"/><rect x="1630.34" y="364.89" width="7.00" height="7.00" fill="#dc2b1c"/><rect x="1655.04" y="380.52" width="7.00" height="7.00" fill="#dc2b1c"/><rect x="1679.74" y="360.43" width="7.00" height="7.00" fill="#dc2b1c"/><rect x="1704.45" y="362.66" width="7.00" height="7.00" fill="#dc2b1c"/><rect x="1729.15" y="353.73" width="7.00" height="7.00" fill="#dc2b1c"/><rect x="1753.85" y="333.35" width="7.00" height="7.00" fill="#dc2b1c"/><rect x="1778.70" y="300.61" width="7.00" height="7.00" fill="#dc2b1c"/><rect x="1803.40" y="320.99" width="7.00" height="7.00" fill="#dc2b1c"/><rect x="1828.11" y="285.28" width="7.00" height="7.00" fill="#dc2b1c"/><rect x="1852.81" y="265.93" width="7.00" height="7.00" fill="#dc2b1c"/><rect x="1877.61" y="247.61" width="7.00" height="7.00" fill="#dc2b1c"/><rect x="1902.50" y="212.06" width="7.00" height="7.00" fill="#dc2b1c"/><rect x="1951.83" y="179.39" width="7.00" height="7.00" fill="#dc2b1c"/><rect x="1630.34" y="365.64" width="7.00" height="7.00" fill="#dc2b1c"/><rect x="1655.04" y="381.26" width="7.00" height="7.00" fill="#dc2b1c"/><rect x="1679.74" y="370.55" width="7.00" height="7.00" fill="#dc2b1c"/><rect x="1704.45" y="367.12" width="7.00" height="7.00" fill="#dc2b1c"/><rect x="1729.15" y="357.45" width="7.00" height="7.00" fill="#dc2b1c"/><rect x="1753.85" y="348.82" width="7.00" height="7.00" fill="#dc2b1c"/><rect x="1778.70" y="344.06" width="7.00" height="7.00" fill="#dc2b1c"/><rect x="1803.40" y="341.08" width="7.00" height="7.00" fill="#dc2b1c"/><rect x="1828.11" y="335.88" width="7.00" height="7.00" fill="#dc2b1c"/><rect x="1852.81" y="305.37" width="7.00" height="7.00" fill="#dc2b1c"/><rect x="1877.61" y="295.83" width="7.00" height="7.00" fill="#dc2b1c"/><rect x="1902.50" y="252.72" width="7.00" height="7.00" fill="#dc2b1c"/><rect x="1927.17" y="237.17" width="7.00" height="7.00" fill="#dc2b1c"/><rect x="1951.83" y="213.83" width="7.00" height="7.00" fill="#dc2b1c"/><rect x="1630.34" y="360.43" width="7.00" height="7.00" fill="#dc2b1c"/><rect x="1655.04" y="362.66" width="7.00" height="7.00" fill="#dc2b1c"/><rect x="1679.74" y="357.45" width="7.00" height="7.00" fill="#dc2b1c"/><rect x="1704.45" y="361.17" width="7.00" height="7.00" fill="#dc2b1c"/><rect x="1729.15" y="378.29" width="7.00" height="7.00" fill="#dc2b1c"/><rect x="1753.85" y="387.21" width="7.00" height="7.00" fill="#dc2b1c"/><rect x="1778.70" y="323.23" width="7.00" height="7.00" fill="#dc2b1c"/><rect x="1803.40" y="354.48" width="7.00" height="7.00" fill="#dc2b1c"/><rect x="1828.11" y="263.70" width="7.00" height="7.00" fill="#dc2b1c"/><rect x="1852.81" y="277.84" width="7.00" height="7.00" fill="#dc2b1c"/><rect x="1902.50" y="266.06" width="7.00" height="7.00" fill="#dc2b1c"/><rect x="1951.83" y="230.94" width="7.00" height="7.00" fill="#dc2b1c"/><rect x="1976.50" y="206.94" width="7.00" height="7.00" fill="#dc2b1c"/><rect x="2025.83" y="178.50" width="7.00" height="7.00" fill="#dc2b1c"/><polyline points="1633.8,368.6 1658.5,305.3 1683.2,269.5 1708.0,212.6 1732.7,174.0" fill="none" stroke="#4047a8" stroke-width="2.8" stroke-linejoin="round"/><polyline points="1633.8,371.1 1658.5,308.5 1683.2,272.0 1708.0,215.9 1732.7,178.5" fill="none" stroke="#4047a8" stroke-width="2.8" stroke-linejoin="round"/><polyline points="1633.8,373.5 1658.5,321.5 1683.2,276.0 1708.0,236.7 1732.7,176.1" fill="none" stroke="#4047a8" stroke-width="2.8" stroke-linejoin="round"/><polyline points="1633.8,382.5 1658.5,333.7 1683.2,287.4 1708.0,264.6 1732.7,190.7" fill="none" stroke="#4047a8" stroke-width="2.8" stroke-linejoin="round"/><polyline points="1633.8,378.4 1658.5,306.9 1683.2,270.3 1708.0,214.3 1732.7,175.3" fill="none" stroke="#4047a8" stroke-width="2.8" stroke-linejoin="round"/><circle cx="1633.80" cy="368.65" r="3.40" fill="#4047a8"/><circle cx="1658.52" cy="305.27" r="3.40" fill="#4047a8"/><circle cx="1683.23" cy="269.51" r="3.40" fill="#4047a8"/><circle cx="1707.95" cy="212.63" r="3.40" fill="#4047a8"/><circle cx="1732.67" cy="173.95" r="3.40" fill="#4047a8"/><circle cx="1633.80" cy="371.08" r="3.40" fill="#4047a8"/><circle cx="1658.52" cy="308.52" r="3.40" fill="#4047a8"/><circle cx="1683.23" cy="271.95" r="3.40" fill="#4047a8"/><circle cx="1707.95" cy="215.88" r="3.40" fill="#4047a8"/><circle cx="1732.67" cy="178.51" r="3.40" fill="#4047a8"/><circle cx="1633.80" cy="373.52" r="3.40" fill="#4047a8"/><circle cx="1658.52" cy="321.52" r="3.40" fill="#4047a8"/><circle cx="1683.23" cy="276.01" r="3.40" fill="#4047a8"/><circle cx="1707.95" cy="236.69" r="3.40" fill="#4047a8"/><circle cx="1732.67" cy="176.07" r="3.40" fill="#4047a8"/><circle cx="1633.80" cy="382.46" r="3.40" fill="#4047a8"/><circle cx="1658.52" cy="333.71" r="3.40" fill="#4047a8"/><circle cx="1683.23" cy="287.39" r="3.40" fill="#4047a8"/><circle cx="1707.95" cy="264.64" r="3.40" fill="#4047a8"/><circle cx="1732.67" cy="190.69" r="3.40" fill="#4047a8"/><circle cx="1633.80" cy="378.40" r="3.40" fill="#4047a8"/><circle cx="1658.52" cy="306.89" r="3.40" fill="#4047a8"/><circle cx="1683.23" cy="270.33" r="3.40" fill="#4047a8"/><circle cx="1707.95" cy="214.26" r="3.40" fill="#4047a8"/><circle cx="1732.67" cy="175.25" r="3.40" fill="#4047a8"/><line x1="1520.80" y1="626.30" x2="1557.00" y2="626.30" stroke="#4047a8" stroke-width="3.2"/><circle cx="1538.90" cy="626.30" r="3.50" fill="#4047a8"/><text x="1577.80" y="634.50" font-size="30.75">Untransduced T cells</text><line x1="1520.80" y1="665.00" x2="1557.00" y2="665.00" stroke="#dc2b1c" stroke-width="3.2"/><rect x="1535.40" y="661.50" width="7.00" height="7.00" fill="#dc2b1c"/><text x="1578.00" y="673.10" font-size="30.75" textLength="354.3" lengthAdjust="spacingAndGlyphs">STEAP1-BBζ CAR T cells</text><line x1="1630.00" y1="727.40" x2="1630.00" y2="984.40" stroke="#000" stroke-width="3.8"/><line x1="1615.50" y1="982.50" x2="1967.80" y2="982.50" stroke="#000" stroke-width="3.8"/><line x1="1615.50" y1="982.50" x2="1630.00" y2="982.50" stroke="#000" stroke-width="3.6"/><text transform="translate(1616.40 992.20) scale(0.95 1)" font-size="32.2" text-anchor="end">0</text><line x1="1615.50" y1="919.17" x2="1630.00" y2="919.17" stroke="#000" stroke-width="3.6"/><text transform="translate(1616.40 928.88) scale(0.95 1)" font-size="32.2" text-anchor="end">25</text><line x1="1615.50" y1="855.85" x2="1630.00" y2="855.85" stroke="#000" stroke-width="3.6"/><text transform="translate(1616.40 865.55) scale(0.95 1)" font-size="32.2" text-anchor="end">50</text><line x1="1615.50" y1="792.53" x2="1630.00" y2="792.53" stroke="#000" stroke-width="3.6"/><text transform="translate(1616.40 802.23) scale(0.95 1)" font-size="32.2" text-anchor="end">75</text><line x1="1615.50" y1="729.20" x2="1630.00" y2="729.20" stroke="#000" stroke-width="3.6"/><text transform="translate(1616.40 738.90) scale(0.95 1)" font-size="32.2" text-anchor="end">100</text><line x1="1630.00" y1="982.50" x2="1630.00" y2="997.00" stroke="#000" stroke-width="3.6"/><text transform="translate(1631.00 1022.30) scale(0.89 1)" font-size="29.2" text-anchor="middle">0</text><line x1="1707.43" y1="982.50" x2="1707.43" y2="997.00" stroke="#000" stroke-width="3.6"/><text transform="translate(1708.43 1022.30) scale(0.89 1)" font-size="29.2" text-anchor="middle">30</text><line x1="1784.86" y1="982.50" x2="1784.86" y2="997.00" stroke="#000" stroke-width="3.6"/><text transform="translate(1785.86 1022.30) scale(0.89 1)" font-size="29.2" text-anchor="middle">60</text><line x1="1862.29" y1="982.50" x2="1862.29" y2="997.00" stroke="#000" stroke-width="3.6"/><text transform="translate(1863.29 1022.30) scale(0.89 1)" font-size="29.2" text-anchor="middle">90</text><line x1="1939.72" y1="982.50" x2="1939.72" y2="997.00" stroke="#000" stroke-width="3.6"/><text transform="translate(1940.72 1022.30) scale(0.89 1)" font-size="29.2" text-anchor="middle">120</text><text x="1779.30" y="1067.30" font-size="30.92" text-anchor="middle">Days Post-Treatment Initiation</text><text transform="translate(1549.20 841.50) rotate(-90)" font-size="30.75" text-anchor="middle">Percent Survival</text><text x="1872.00" y="757.50" font-size="27.2">p=0.0018</text><polyline points="1700.0,729.2 1844.1,729.2 1844.1,779.9 1872.8,779.9 1872.8,830.5 1880.9,830.5 1880.9,881.2 1888.8,881.2 1888.8,931.8 1934.6,931.8 1934.6,982.5" fill="none" stroke="#dc2b1c" stroke-width="3.6" stroke-linejoin="round"/><polyline points="1630.0,729.2 1700.0,729.2 1700.0,779.9 1709.9,779.9 1709.9,881.2 1714.4,881.2 1714.4,931.8 1717.5,931.8 1717.5,982.5" fill="none" stroke="#4047a8" stroke-width="3.6" stroke-linejoin="round"/><text x="403.40" y="1171.60" font-size="30.75" text-anchor="middle">C4-2B-fLuc disseminated tumor model +</text><text x="403.40" y="1208.10" font-size="30.75" text-anchor="middle">intravenous T cell administration</text><text x="237.30" y="1256.90" font-size="30.75" text-anchor="middle">Untransduced T cells</text><text x="580.40" y="1256.90" font-size="30.75" text-anchor="middle">STEAP1-BBζ CAR T cells</text><text transform="translate(60.90 1309.25) rotate(-90)" font-size="30.75" text-anchor="middle">Day</text><text transform="translate(98.20 1309.25) rotate(-90)" font-size="30.75" text-anchor="middle">0</text><text transform="translate(60.90 1394.75) rotate(-90)" font-size="30.75" text-anchor="middle">Day</text><text transform="translate(98.20 1394.75) rotate(-90)" font-size="30.75" text-anchor="middle">7</text><text transform="translate(60.90 1480.25) rotate(-90)" font-size="30.75" text-anchor="middle">Day</text><text transform="translate(98.20 1480.25) rotate(-90)" font-size="30.75" text-anchor="middle">14</text><text transform="translate(60.90 1565.75) rotate(-90)" font-size="30.75" text-anchor="middle">Day</text><text transform="translate(98.20 1565.75) rotate(-90)" font-size="30.75" text-anchor="middle">21</text><text transform="translate(60.90 1651.25) rotate(-90)" font-size="30.75" text-anchor="middle">Day</text><text transform="translate(98.20 1651.25) rotate(-90)" font-size="30.75" text-anchor="middle">28</text><text transform="translate(60.90 1736.75) rotate(-90)" font-size="30.75" text-anchor="middle">Day</text><text transform="translate(98.20 1736.75) rotate(-90)" font-size="30.75" text-anchor="middle">35</text><text transform="translate(60.90 1822.25) rotate(-90)" font-size="30.75" text-anchor="middle">Day</text><text transform="translate(98.20 1822.25) rotate(-90)" font-size="30.75" text-anchor="middle">42</text><rect x="381.9" y="1476.8" width="36.2" height="180.5" fill="url(#cbf)"/><text x="401.70" y="1465.70" font-size="27.8" text-anchor="middle">5 x 10<tspan font-size="60%" dy="-0.53em">7</tspan></text><text x="401.20" y="1685.80" font-size="27.8" text-anchor="middle">5 x 10<tspan font-size="60%" dy="-0.53em">4</tspan></text><line x1="991.60" y1="1268.40" x2="1032.00" y2="1268.40" stroke="#4047a8" stroke-width="3.2"/><circle cx="1011.80" cy="1268.40" r="3.50" fill="#4047a8"/><text x="1047.00" y="1276.80" font-size="30.75">Untransduced T cells</text><line x1="991.60" y1="1310.60" x2="1032.00" y2="1310.60" stroke="#dc2b1c" stroke-width="3.2"/><rect x="1008.30" y="1307.10" width="7.00" height="7.00" fill="#dc2b1c"/><text x="1047.20" y="1319.70" font-size="30.75" textLength="354" lengthAdjust="spacingAndGlyphs">STEAP1-BBζ CAR T cells</text><line x1="976.10" y1="1367.80" x2="976.10" y2="1653.00" stroke="#000" stroke-width="4"/><line x1="960.20" y1="1651.00" x2="1444.20" y2="1651.00" stroke="#000" stroke-width="4"/><line x1="960.20" y1="1651.00" x2="976.10" y2="1651.00" stroke="#000" stroke-width="3.6"/><text x="960.20" y="1658.50" font-size="31.8" text-anchor="end">10<tspan font-size="55%" dy="-0.6em">5</tspan></text><line x1="960.20" y1="1604.10" x2="976.10" y2="1604.10" stroke="#000" stroke-width="3.6"/><text x="960.20" y="1611.60" font-size="31.8" text-anchor="end">10<tspan font-size="55%" dy="-0.6em">6</tspan></text><line x1="960.20" y1="1557.20" x2="976.10" y2="1557.20" stroke="#000" stroke-width="3.6"/><text x="960.20" y="1564.70" font-size="31.8" text-anchor="end">10<tspan font-size="55%" dy="-0.6em">7</tspan></text><line x1="960.20" y1="1510.30" x2="976.10" y2="1510.30" stroke="#000" stroke-width="3.6"/><text x="960.20" y="1517.80" font-size="31.8" text-anchor="end">10<tspan font-size="55%" dy="-0.6em">8</tspan></text><line x1="960.20" y1="1463.40" x2="976.10" y2="1463.40" stroke="#000" stroke-width="3.6"/><text x="960.20" y="1470.90" font-size="31.8" text-anchor="end">10<tspan font-size="55%" dy="-0.6em">9</tspan></text><line x1="960.20" y1="1416.50" x2="976.10" y2="1416.50" stroke="#000" stroke-width="3.6"/><text x="960.20" y="1424.00" font-size="31.8" text-anchor="end">10<tspan font-size="55%" dy="-0.6em">10</tspan></text><line x1="960.20" y1="1369.60" x2="976.10" y2="1369.60" stroke="#000" stroke-width="3.6"/><text x="960.20" y="1377.10" font-size="31.8" text-anchor="end">10<tspan font-size="55%" dy="-0.6em">11</tspan></text><line x1="1004.70" y1="1651.00" x2="1004.70" y2="1666.50" stroke="#000" stroke-width="3.6"/><text transform="translate(1005.70 1696.30) scale(0.95 1)" font-size="31.8" text-anchor="middle">0</text><line x1="1063.01" y1="1651.00" x2="1063.01" y2="1666.50" stroke="#000" stroke-width="3.6"/><text transform="translate(1067.51 1696.30) scale(0.95 1)" font-size="31.8" text-anchor="middle">7</text><line x1="1121.32" y1="1651.00" x2="1121.32" y2="1666.50" stroke="#000" stroke-width="3.6"/><text transform="translate(1122.32 1696.30) scale(0.95 1)" font-size="31.8" text-anchor="middle">14</text><line x1="1179.63" y1="1651.00" x2="1179.63" y2="1666.50" stroke="#000" stroke-width="3.6"/><text transform="translate(1180.63 1696.30) scale(0.95 1)" font-size="31.8" text-anchor="middle">21</text><line x1="1237.94" y1="1651.00" x2="1237.94" y2="1666.50" stroke="#000" stroke-width="3.6"/><text transform="translate(1238.94 1696.30) scale(0.95 1)" font-size="31.8" text-anchor="middle">28</text><line x1="1296.25" y1="1651.00" x2="1296.25" y2="1666.50" stroke="#000" stroke-width="3.6"/><text transform="translate(1297.25 1696.30) scale(0.95 1)" font-size="31.8" text-anchor="middle">35</text><line x1="1354.56" y1="1651.00" x2="1354.56" y2="1666.50" stroke="#000" stroke-width="3.6"/><text transform="translate(1355.56 1696.30) scale(0.95 1)" font-size="31.8" text-anchor="middle">42</text><line x1="1412.87" y1="1651.00" x2="1412.87" y2="1666.50" stroke="#000" stroke-width="3.6"/><text transform="translate(1413.87 1696.30) scale(0.95 1)" font-size="31.8" text-anchor="middle">49</text><text x="1212.30" y="1742.70" font-size="30.9" text-anchor="middle">Days Post-Treatment Initiation</text><text transform="translate(843.80 1510.00) rotate(-90)" font-size="30.75" text-anchor="middle">Luminescent Flux</text><text transform="translate(881.00 1504.50) rotate(-90)" font-size="30.75" text-anchor="middle">(photons/sec)</text><polyline points="1004.7,1436.8 1063.1,1414.9 1121.4,1498.5 1179.5,1520.5 1237.8,1572.7 1295.8,1608.2 1354.2,1618.9 1412.9,1613.9" fill="none" stroke="#dc2b1c" stroke-width="3.5" stroke-linejoin="round"/><polyline points="1004.7,1498.5 1063.1,1477.3 1121.4,1576.1 1179.5,1582.9 1237.8,1594.7 1295.8,1598.0 1354.2,1588.6 1412.9,1609.8" fill="none" stroke="#dc2b1c" stroke-width="3.5" stroke-linejoin="round"/><polyline points="1004.7,1509.7 1063.1,1508.7 1121.4,1579.5 1179.5,1582.9 1237.8,1591.3 1295.8,1598.0 1354.2,1602.1 1412.9,1598.7" fill="none" stroke="#dc2b1c" stroke-width="3.5" stroke-linejoin="round"/><polyline points="1004.7,1528.9 1063.1,1512.0 1121.4,1592.0 1179.5,1598.0 1237.8,1591.3 1295.8,1613.2 1354.2,1618.9 1412.9,1613.9" fill="none" stroke="#dc2b1c" stroke-width="3.5" stroke-linejoin="round"/><polyline points="1004.7,1505.3 1063.1,1513.7 1121.4,1593.0 1179.5,1594.7 1237.8,1604.8 1295.8,1608.2 1354.2,1620.0 1412.9,1614.9" fill="none" stroke="#dc2b1c" stroke-width="3.5" stroke-linejoin="round"/><rect x="1000.74" y="1432.81" width="8.00" height="8.00" fill="#dc2b1c"/><rect x="1059.10" y="1410.88" width="8.00" height="8.00" fill="#dc2b1c"/><rect x="1117.45" y="1494.53" width="8.00" height="8.00" fill="#dc2b1c"/><rect x="1175.47" y="1516.46" width="8.00" height="8.00" fill="#dc2b1c"/><rect x="1233.82" y="1568.74" width="8.00" height="8.00" fill="#dc2b1c"/><rect x="1291.83" y="1604.16" width="8.00" height="8.00" fill="#dc2b1c"/><rect x="1350.19" y="1614.95" width="8.00" height="8.00" fill="#dc2b1c"/><rect x="1408.88" y="1609.89" width="8.00" height="8.00" fill="#dc2b1c"/><rect x="1000.74" y="1494.53" width="8.00" height="8.00" fill="#dc2b1c"/><rect x="1059.10" y="1473.28" width="8.00" height="8.00" fill="#dc2b1c"/><rect x="1117.45" y="1572.11" width="8.00" height="8.00" fill="#dc2b1c"/><rect x="1175.47" y="1578.86" width="8.00" height="8.00" fill="#dc2b1c"/><rect x="1233.82" y="1590.66" width="8.00" height="8.00" fill="#dc2b1c"/><rect x="1291.83" y="1594.04" width="8.00" height="8.00" fill="#dc2b1c"/><rect x="1350.19" y="1584.59" width="8.00" height="8.00" fill="#dc2b1c"/><rect x="1408.88" y="1605.84" width="8.00" height="8.00" fill="#dc2b1c"/><rect x="1000.74" y="1505.66" width="8.00" height="8.00" fill="#dc2b1c"/><rect x="1059.10" y="1504.65" width="8.00" height="8.00" fill="#dc2b1c"/><rect x="1117.45" y="1575.48" width="8.00" height="8.00" fill="#dc2b1c"/><rect x="1175.47" y="1578.86" width="8.00" height="8.00" fill="#dc2b1c"/><rect x="1233.82" y="1587.29" width="8.00" height="8.00" fill="#dc2b1c"/><rect x="1291.83" y="1594.04" width="8.00" height="8.00" fill="#dc2b1c"/><rect x="1350.19" y="1598.08" width="8.00" height="8.00" fill="#dc2b1c"/><rect x="1408.88" y="1594.71" width="8.00" height="8.00" fill="#dc2b1c"/><rect x="1000.74" y="1524.89" width="8.00" height="8.00" fill="#dc2b1c"/><rect x="1059.10" y="1508.02" width="8.00" height="8.00" fill="#dc2b1c"/><rect x="1117.45" y="1587.96" width="8.00" height="8.00" fill="#dc2b1c"/><rect x="1175.47" y="1594.04" width="8.00" height="8.00" fill="#dc2b1c"/><rect x="1233.82" y="1587.29" width="8.00" height="8.00" fill="#dc2b1c"/><rect x="1291.83" y="1609.21" width="8.00" height="8.00" fill="#dc2b1c"/><rect x="1350.19" y="1614.95" width="8.00" height="8.00" fill="#dc2b1c"/><rect x="1408.88" y="1609.89" width="8.00" height="8.00" fill="#dc2b1c"/><rect x="1000.74" y="1501.28" width="8.00" height="8.00" fill="#dc2b1c"/><rect x="1059.10" y="1509.71" width="8.00" height="8.00" fill="#dc2b1c"/><rect x="1117.45" y="1588.98" width="8.00" height="8.00" fill="#dc2b1c"/><rect x="1175.47" y="1590.66" width="8.00" height="8.00" fill="#dc2b1c"/><rect x="1233.82" y="1600.78" width="8.00" height="8.00" fill="#dc2b1c"/><rect x="1291.83" y="1604.16" width="8.00" height="8.00" fill="#dc2b1c"/><rect x="1350.19" y="1615.96" width="8.00" height="8.00" fill="#dc2b1c"/><rect x="1408.88" y="1610.90" width="8.00" height="8.00" fill="#dc2b1c"/><polyline points="1004.7,1404.1 1063.1,1395.0 1121.4,1398.7" fill="none" stroke="#4047a8" stroke-width="3.5" stroke-linejoin="round"/><polyline points="1004.7,1541.7 1063.1,1426.7 1121.4,1419.9 1179.5,1419.9 1237.8,1417.6 1295.8,1399.7 1354.2,1413.5 1412.9,1396.3" fill="none" stroke="#4047a8" stroke-width="3.5" stroke-linejoin="round"/><polyline points="1004.7,1477.3 1063.1,1452.0 1121.4,1434.8 1179.5,1428.0 1237.8,1409.1 1295.8,1407.5 1354.2,1484.4 1412.9,1417.2" fill="none" stroke="#4047a8" stroke-width="3.5" stroke-linejoin="round"/><polyline points="1004.7,1503.3 1063.1,1494.1 1121.4,1486.4 1179.5,1503.6 1237.8,1479.3 1295.8,1425.3 1354.2,1390.3 1412.9,1391.3" fill="none" stroke="#4047a8" stroke-width="3.5" stroke-linejoin="round"/><circle cx="1004.74" cy="1404.09" r="3.80" fill="#4047a8"/><circle cx="1063.10" cy="1394.98" r="3.80" fill="#4047a8"/><circle cx="1121.45" cy="1398.69" r="3.80" fill="#4047a8"/><circle cx="1004.74" cy="1541.71" r="3.80" fill="#4047a8"/><circle cx="1063.10" cy="1426.69" r="3.80" fill="#4047a8"/><circle cx="1121.45" cy="1419.94" r="3.80" fill="#4047a8"/><circle cx="1179.47" cy="1419.94" r="3.80" fill="#4047a8"/><circle cx="1237.82" cy="1417.58" r="3.80" fill="#4047a8"/><circle cx="1295.83" cy="1399.70" r="3.80" fill="#4047a8"/><circle cx="1354.19" cy="1413.53" r="3.80" fill="#4047a8"/><circle cx="1412.88" cy="1396.33" r="3.80" fill="#4047a8"/><circle cx="1004.74" cy="1477.28" r="3.80" fill="#4047a8"/><circle cx="1063.10" cy="1451.98" r="3.80" fill="#4047a8"/><circle cx="1121.45" cy="1434.78" r="3.80" fill="#4047a8"/><circle cx="1179.47" cy="1428.04" r="3.80" fill="#4047a8"/><circle cx="1237.82" cy="1409.15" r="3.80" fill="#4047a8"/><circle cx="1295.83" cy="1407.46" r="3.80" fill="#4047a8"/><circle cx="1354.19" cy="1484.37" r="3.80" fill="#4047a8"/><circle cx="1412.88" cy="1417.24" r="3.80" fill="#4047a8"/><circle cx="1004.74" cy="1503.25" r="3.80" fill="#4047a8"/><circle cx="1063.10" cy="1494.15" r="3.80" fill="#4047a8"/><circle cx="1121.45" cy="1486.39" r="3.80" fill="#4047a8"/><circle cx="1179.47" cy="1503.59" r="3.80" fill="#4047a8"/><circle cx="1237.82" cy="1479.31" r="3.80" fill="#4047a8"/><circle cx="1295.83" cy="1425.34" r="3.80" fill="#4047a8"/><circle cx="1354.19" cy="1390.26" r="3.80" fill="#4047a8"/><circle cx="1412.88" cy="1391.27" r="3.80" fill="#4047a8"/><line x1="1740.60" y1="1287.90" x2="1740.60" y2="1599.80" stroke="#000" stroke-width="3.6"/><line x1="1723.40" y1="1598.00" x2="1946.30" y2="1598.00" stroke="#000" stroke-width="3.6"/><line x1="1723.40" y1="1598.00" x2="1740.60" y2="1598.00" stroke="#000" stroke-width="3.4"/><text transform="translate(1720.00 1609.90) scale(0.92 1)" font-size="32" text-anchor="end">0</text><line x1="1723.40" y1="1536.50" x2="1740.60" y2="1536.50" stroke="#000" stroke-width="3.4"/><text transform="translate(1720.00 1548.40) scale(0.92 1)" font-size="32" text-anchor="end">2</text><line x1="1723.40" y1="1475.00" x2="1740.60" y2="1475.00" stroke="#000" stroke-width="3.4"/><text transform="translate(1720.00 1486.90) scale(0.92 1)" font-size="32" text-anchor="end">4</text><line x1="1723.40" y1="1413.50" x2="1740.60" y2="1413.50" stroke="#000" stroke-width="3.4"/><text transform="translate(1720.00 1425.40) scale(0.92 1)" font-size="32" text-anchor="end">6</text><line x1="1723.40" y1="1352.00" x2="1740.60" y2="1352.00" stroke="#000" stroke-width="3.4"/><text transform="translate(1720.00 1363.90) scale(0.92 1)" font-size="32" text-anchor="end">8</text><line x1="1723.40" y1="1290.50" x2="1740.60" y2="1290.50" stroke="#000" stroke-width="3.4"/><text transform="translate(1720.00 1302.40) scale(0.92 1)" font-size="32" text-anchor="end">10</text><line x1="1798.20" y1="1598.00" x2="1798.20" y2="1614.90" stroke="#000" stroke-width="3.4"/><line x1="1884.90" y1="1598.00" x2="1884.90" y2="1614.90" stroke="#000" stroke-width="3.4"/><line x1="1769.00" y1="1586.90" x2="1799.00" y2="1586.90" stroke="#4047a8" stroke-width="4.6"/><circle cx="1777.30" cy="1592.80" r="8.30" fill="#4047a8"/><circle cx="1790.80" cy="1579.20" r="8.30" fill="#4047a8"/><circle cx="1805.20" cy="1587.80" r="8.30" fill="#4047a8"/><circle cx="1819.50" cy="1585.20" r="8.30" fill="#4047a8"/><line x1="1856.30" y1="1465.40" x2="1913.80" y2="1465.40" stroke="#dc2b1c" stroke-width="5.2"/><rect x="1876.45" y="1336.95" width="16.90" height="16.90" fill="#dc2b1c"/><rect x="1876.45" y="1458.75" width="16.90" height="16.90" fill="#dc2b1c"/><rect x="1897.75" y="1510.95" width="16.90" height="16.90" fill="#dc2b1c"/><rect x="1856.05" y="1521.15" width="16.90" height="16.90" fill="#dc2b1c"/><text transform="translate(1631.80 1435.00) rotate(-90)" font-size="30.2" text-anchor="middle">CD3<tspan font-size="55%" dy="-0.62em">+</tspan><tspan dy="0.341em"> EGFRt</tspan><tspan font-size="55%" dy="-0.62em">+</tspan></text><text transform="translate(1674.80 1434.30) rotate(-90)" font-size="30.4" text-anchor="middle">(% of splenocytes)</text><text transform="translate(1806.50 1629.00) rotate(-45)" font-size="30.75" text-anchor="end">Untransduced T cells</text><text transform="translate(1898.50 1629.00) rotate(-45)" font-size="30.75" text-anchor="end">STEAP1-BBζ CAR T cells</text><svg x="873.10" y="141.90" width="28.00" height="73.30" viewBox="0 0 100 262" preserveAspectRatio="none"><use href="#m"/></svg><svg x="904.50" y="141.90" width="28.00" height="73.30" viewBox="0 0 100 262" preserveAspectRatio="none"><use href="#m"/><g filter="url(#bl)"><ellipse cx="22" cy="176" rx="10" ry="10" fill="url(#p1)"/><ellipse cx="71" cy="113" rx="6" ry="7" fill="url(#p1)"/></g></svg><svg x="935.90" y="141.90" width="28.00" height="73.30" viewBox="0 0 100 262" preserveAspectRatio="none"><use href="#m"/><g filter="url(#bl)"><ellipse cx="52" cy="128" rx="20" ry="16" fill="url(#p1)"/><ellipse cx="52" cy="16" rx="7" ry="8" fill="url(#p1)"/></g></svg><svg x="967.10" y="141.90" width="28.00" height="73.30" viewBox="0 0 100 262" preserveAspectRatio="none"><use href="#m"/><g filter="url(#bl)"><ellipse cx="33" cy="123" rx="10" ry="10" fill="url(#p1)"/></g></svg><svg x="998.50" y="141.90" width="28.00" height="73.30" viewBox="0 0 100 262" preserveAspectRatio="none"><use href="#m"/><g filter="url(#bl)"><ellipse cx="33" cy="73" rx="9" ry="9" fill="url(#p1)"/><ellipse cx="84" cy="194" rx="7" ry="8" fill="url(#p1)"/></g></svg><svg x="873.10" y="218.55" width="28.00" height="73.30" viewBox="0 0 100 262" preserveAspectRatio="none"><use href="#m"/><g filter="url(#bl)"><ellipse cx="47" cy="105" rx="48" ry="63" fill="url(#p2)"/><ellipse cx="30" cy="110" rx="10" ry="10" fill="url(#p3)"/><ellipse cx="50" cy="131" rx="10" ry="10" fill="url(#p3)"/><ellipse cx="55" cy="215" rx="32" ry="26" fill="url(#p1)"/></g></svg><svg x="904.50" y="218.55" width="28.00" height="73.30" viewBox="0 0 100 262" preserveAspectRatio="none"><use href="#m"/><g filter="url(#bl)"><ellipse cx="48" cy="121" rx="46" ry="39" fill="url(#p2)"/><ellipse cx="20" cy="186" rx="14" ry="14" fill="url(#p3)"/><ellipse cx="83" cy="178" rx="12" ry="13" fill="url(#p2)"/></g></svg><svg x="935.90" y="218.55" width="28.00" height="73.30" viewBox="0 0 100 262" preserveAspectRatio="none"><use href="#m"/><g filter="url(#bl)"><ellipse cx="52" cy="94" rx="34" ry="71" fill="url(#p2)"/><ellipse cx="60" cy="189" rx="27" ry="21" fill="url(#p1)"/></g></svg><svg x="967.10" y="218.55" width="28.00" height="73.30" viewBox="0 0 100 262" preserveAspectRatio="none"><use href="#m"/><g filter="url(#bl)"><ellipse cx="49" cy="123" rx="44" ry="26" fill="url(#p2)"/></g></svg><svg x="998.50" y="218.55" width="28.00" height="73.30" viewBox="0 0 100 262" preserveAspectRatio="none"><use href="#m"/><g filter="url(#bl)"><ellipse cx="41" cy="105" rx="42" ry="58" fill="url(#p2)"/><ellipse cx="32" cy="66" rx="14" ry="16" fill="url(#p3)"/><ellipse cx="80" cy="194" rx="15" ry="16" fill="url(#p2)"/></g></svg><svg x="873.10" y="295.20" width="28.00" height="73.30" viewBox="0 0 100 262" preserveAspectRatio="none"><rect width="100" height="262" fill="#7a42c0"/><path d="M0 0 H22 L10 70 L0 80 Z M100 0 H80 L92 60 L100 70 Z M0 262 V200 L20 235 L30 262 Z M100 262 V215 L80 240 L70 262 Z" fill="#0b0b0b" filter="url(#bl)"/><path d="M50 4 C45 4 42 12 40 24 C38 38 32 44 24 50 C12 60 6 84 4 116 C2 150 1 190 7 212 C13 233 32 247 50 248 C68 247 87 233 93 212 C99 190 98 150 96 116 C94 84 88 60 76 50 C68 44 62 38 60 24 C58 12 55 4 50 4 Z" fill="#5258c4" filter="url(#bl2)"/><g filter="url(#bl)"><ellipse cx="50" cy="118" rx="50" ry="34" fill="url(#cy)"/><ellipse cx="60" cy="115" rx="34" ry="20" fill="url(#h3)"/><ellipse cx="55" cy="123" rx="12" ry="8" fill="url(#h4)"/><ellipse cx="37" cy="50" rx="20" ry="18" fill="url(#cy)"/><ellipse cx="37" cy="50" rx="10" ry="9" fill="url(#h3)"/><ellipse cx="84" cy="176" rx="10" ry="10" fill="url(#cy)"/><ellipse cx="45" cy="183" rx="7" ry="8" fill="url(#cy)"/></g></svg><svg x="904.50" y="295.20" width="28.00" height="73.30" viewBox="0 0 100 262" preserveAspectRatio="none"><use href="#m"/><path d="M50 4 C45 4 42 12 40 24 C38 38 32 44 24 50 C12 60 6 84 4 116 C2 150 1 190 7 212 C13 233 32 247 50 248 C68 247 87 233 93 212 C99 190 98 150 96 116 C94 84 88 60 76 50 C68 44 62 38 60 24 C58 12 55 4 50 4 Z" fill="#8046c4" stroke="#8046c4" stroke-width="8" filter="url(#bl)"/><ellipse cx="50" cy="130" rx="40" ry="95" fill="#5660c6" opacity="0.85" filter="url(#bl2)"/><g filter="url(#bl)"><ellipse cx="50" cy="123" rx="46" ry="34" fill="url(#cy)"/><ellipse cx="50" cy="123" rx="32" ry="21" fill="url(#h3)"/><ellipse cx="50" cy="144" rx="7" ry="8" fill="url(#h5)"/><ellipse cx="13" cy="183" rx="13" ry="14" fill="url(#cy)"/><ellipse cx="13" cy="183" rx="7" ry="8" fill="url(#h3)"/><ellipse cx="83" cy="186" rx="12" ry="13" fill="url(#cy)"/><ellipse cx="83" cy="186" rx="6" ry="7" fill="url(#h3)"/></g></svg><svg x="935.90" y="295.20" width="28.00" height="73.30" viewBox="0 0 100 262" preserveAspectRatio="none"><use href="#m"/><path d="M50 4 C45 4 42 12 40 24 C38 38 32 44 24 50 C12 60 6 84 4 116 C2 150 1 190 7 212 C13 233 32 247 50 248 C68 247 87 233 93 212 C99 190 98 150 96 116 C94 84 88 60 76 50 C68 44 62 38 60 24 C58 12 55 4 50 4 Z" fill="#8046c4" stroke="#8046c4" stroke-width="8" filter="url(#bl)"/><ellipse cx="50" cy="130" rx="40" ry="95" fill="#5660c6" opacity="0.85" filter="url(#bl2)"/><g filter="url(#bl)"><ellipse cx="50" cy="121" rx="46" ry="31" fill="url(#cy)"/><ellipse cx="47" cy="123" rx="32" ry="18" fill="url(#h3)"/><ellipse cx="45" cy="123" rx="10" ry="7" fill="url(#h4)"/><ellipse cx="55" cy="21" rx="15" ry="17" fill="url(#cy)"/><ellipse cx="55" cy="21" rx="9" ry="10" fill="url(#h3)"/><ellipse cx="62" cy="189" rx="10" ry="26" fill="url(#cy)"/></g></svg><svg x="967.10" y="295.20" width="28.00" height="73.30" viewBox="0 0 100 262" preserveAspectRatio="none"><use href="#m"/><g filter="url(#bl)"><ellipse cx="50" cy="92" rx="50" ry="79" fill="url(#p1)"/><ellipse cx="45" cy="223" rx="35" ry="31" fill="url(#p1)"/><ellipse cx="50" cy="79" rx="40" ry="52" fill="url(#bu)"/><ellipse cx="50" cy="113" rx="44" ry="26" fill="url(#cy)"/><ellipse cx="50" cy="115" rx="30" ry="13" fill="url(#h3)"/><ellipse cx="25" cy="178" rx="25" ry="31" fill="url(#p1)"/></g></svg><svg x="998.50" y="295.20" width="28.00" height="73.30" viewBox="0 0 100 262" preserveAspectRatio="none"><use href="#m"/><path d="M50 4 C45 4 42 12 40 24 C38 38 32 44 24 50 C12 60 6 84 4 116 C2 150 1 190 7 212 C13 233 32 247 50 248 C68 247 87 233 93 212 C99 190 98 150 96 116 C94 84 88 60 76 50 C68 44 62 38 60 24 C58 12 55 4 50 4 Z" fill="#8046c4" stroke="#8046c4" stroke-width="8" filter="url(#bl)"/><ellipse cx="50" cy="130" rx="40" ry="95" fill="#5660c6" opacity="0.85" filter="url(#bl2)"/><g filter="url(#bl)"><ellipse cx="42" cy="115" rx="44" ry="31" fill="url(#cy)"/><ellipse cx="42" cy="118" rx="30" ry="16" fill="url(#h3)"/><ellipse cx="45" cy="123" rx="8" ry="7" fill="url(#h4)"/><ellipse cx="80" cy="181" rx="15" ry="17" fill="url(#cy)"/><ellipse cx="80" cy="181" rx="8" ry="9" fill="url(#h4)"/></g></svg><svg x="873.10" y="371.85" width="28.00" height="73.30" viewBox="0 0 100 262" preserveAspectRatio="none"><rect width="100" height="262" fill="#7a42c0"/><path d="M0 262 V222 L20 245 L38 262 Z M100 262 V225 L80 246 L62 262 Z" fill="#0b0b0b" filter="url(#bl)"/><path d="M50 4 C45 4 42 12 40 24 C38 38 32 44 24 50 C12 60 6 84 4 116 C2 150 1 190 7 212 C13 233 32 247 50 248 C68 247 87 233 93 212 C99 190 98 150 96 116 C94 84 88 60 76 50 C68 44 62 38 60 24 C58 12 55 4 50 4 Z" fill="#5258c4" filter="url(#bl2)"/><g filter="url(#bl)"><ellipse cx="50" cy="131" rx="50" ry="105" fill="url(#cy)"/><ellipse cx="53" cy="122" rx="47" ry="37" fill="url(#h5)"/><ellipse cx="45" cy="50" rx="24" ry="22" fill="url(#h5)"/><ellipse cx="81" cy="174" rx="17" ry="20" fill="url(#h4)"/><ellipse cx="30" cy="183" rx="9" ry="10" fill="url(#h3)"/></g></svg><svg x="904.50" y="371.85" width="28.00" height="73.30" viewBox="0 0 100 262" preserveAspectRatio="none"><rect width="100" height="262" fill="#7a42c0"/><path d="M0 262 V222 L20 245 L38 262 Z M100 262 V225 L80 246 L62 262 Z" fill="#0b0b0b" filter="url(#bl)"/><path d="M50 4 C45 4 42 12 40 24 C38 38 32 44 24 50 C12 60 6 84 4 116 C2 150 1 190 7 212 C13 233 32 247 50 248 C68 247 87 233 93 212 C99 190 98 150 96 116 C94 84 88 60 76 50 C68 44 62 38 60 24 C58 12 55 4 50 4 Z" fill="#5258c4" filter="url(#bl2)"/><g filter="url(#bl)"><ellipse cx="50" cy="144" rx="50" ry="94" fill="url(#cy)"/><ellipse cx="46" cy="131" rx="46" ry="50" fill="url(#h6)"/><ellipse cx="28" cy="178" rx="26" ry="34" fill="url(#h5)"/><ellipse cx="86" cy="178" rx="10" ry="12" fill="url(#h5)"/></g></svg><svg x="935.90" y="371.85" width="28.00" height="73.30" viewBox="0 0 100 262" preserveAspectRatio="none"><rect width="100" height="262" fill="#7a42c0"/><path d="M0 262 V222 L20 245 L38 262 Z M100 262 V225 L80 246 L62 262 Z" fill="#0b0b0b" filter="url(#bl)"/><path d="M50 4 C45 4 42 12 40 24 C38 38 32 44 24 50 C12 60 6 84 4 116 C2 150 1 190 7 212 C13 233 32 247 50 248 C68 247 87 233 93 212 C99 190 98 150 96 116 C94 84 88 60 76 50 C68 44 62 38 60 24 C58 12 55 4 50 4 Z" fill="#5258c4" filter="url(#bl2)"/><g filter="url(#bl)"><ellipse cx="50" cy="131" rx="50" ry="105" fill="url(#cy)"/><ellipse cx="55" cy="124" rx="44" ry="33" fill="url(#h6)"/><ellipse cx="66" cy="186" rx="22" ry="29" fill="url(#h5)"/><ellipse cx="62" cy="31" rx="15" ry="24" fill="url(#h7)"/></g></svg><svg x="967.10" y="371.85" width="28.00" height="73.30" viewBox="0 0 100 262" preserveAspectRatio="none"><use href="#m"/><path d="M50 4 C45 4 42 12 40 24 C38 38 32 44 24 50 C12 60 6 84 4 116 C2 150 1 190 7 212 C13 233 32 247 50 248 C68 247 87 233 93 212 C99 190 98 150 96 116 C94 84 88 60 76 50 C68 44 62 38 60 24 C58 12 55 4 50 4 Z" fill="#8046c4" stroke="#8046c4" stroke-width="8" filter="url(#bl)"/><ellipse cx="50" cy="130" rx="40" ry="95" fill="#5660c6" opacity="0.85" filter="url(#bl2)"/><g filter="url(#bl)"><ellipse cx="50" cy="128" rx="42" ry="31" fill="url(#cy)"/><ellipse cx="50" cy="128" rx="37" ry="18" fill="url(#h4)"/></g></svg><svg x="998.50" y="371.85" width="28.00" height="73.30" viewBox="0 0 100 262" preserveAspectRatio="none"><rect width="100" height="262" fill="#7a42c0"/><path d="M0 0 H35 L8 60 L0 70 Z M100 0 H70 L95 50 L100 60 Z M0 262 V225 L25 250 L35 262 Z M100 262 V230 L75 250 L65 262 Z" fill="#0b0b0b" filter="url(#bl)"/><path d="M50 4 C45 4 42 12 40 24 C38 38 32 44 24 50 C12 60 6 84 4 116 C2 150 1 190 7 212 C13 233 32 247 50 248 C68 247 87 233 93 212 C99 190 98 150 96 116 C94 84 88 60 76 50 C68 44 62 38 60 24 C58 12 55 4 50 4 Z" fill="#5258c4" filter="url(#bl2)"/><g filter="url(#bl)"><ellipse cx="50" cy="131" rx="50" ry="100" fill="url(#cy)"/><ellipse cx="55" cy="110" rx="45" ry="30" fill="url(#h4)"/><ellipse cx="78" cy="170" rx="15" ry="18" fill="url(#h4)"/><ellipse cx="55" cy="45" rx="10" ry="10" fill="url(#cy)"/></g></svg><path d="M871.15 448.50 H875.05 L903.05 521.80 H899.15 Z M899.15 448.50 H903.05 L875.05 521.80 H871.15 Z" fill="#dc2b1c"/><svg x="904.50" y="448.50" width="28.00" height="73.30" viewBox="0 0 100 262" preserveAspectRatio="none"><rect width="100" height="262" fill="#4a50b8"/><ellipse cx="50" cy="135" rx="60" ry="118" fill="url(#cy)" filter="url(#bl2)"/><g filter="url(#bl)"><ellipse cx="50" cy="152" rx="66" ry="100" fill="url(#h4)"/><ellipse cx="50" cy="249" rx="14" ry="24" fill="url(#h4)"/></g></svg><svg x="935.90" y="448.50" width="28.00" height="73.30" viewBox="0 0 100 262" preserveAspectRatio="none"><rect width="100" height="262" fill="#4a50b8"/><ellipse cx="50" cy="135" rx="60" ry="118" fill="url(#cy)" filter="url(#bl2)"/><g filter="url(#bl)"><ellipse cx="50" cy="157" rx="56" ry="81" fill="url(#h6)"/><ellipse cx="54" cy="47" rx="20" ry="31" fill="url(#h7)"/></g></svg><svg x="967.10" y="448.50" width="28.00" height="73.30" viewBox="0 0 100 262" preserveAspectRatio="none"><rect width="100" height="262" fill="#4a50b8"/><path d="M2 0 H40 L12 28 L2 22 Z M0 262 V215 L28 222 L32 262 Z M52 262 L58 232 L92 228 L98 262 Z" fill="#0b0b0b" filter="url(#bl)"/><ellipse cx="50" cy="135" rx="60" ry="118" fill="url(#cy)" filter="url(#bl2)"/><g filter="url(#bl)"><ellipse cx="52" cy="149" rx="62" ry="92" fill="url(#h4)"/></g></svg><svg x="998.50" y="448.50" width="28.00" height="73.30" viewBox="0 0 100 262" preserveAspectRatio="none"><rect width="100" height="262" fill="#4a50b8"/><ellipse cx="50" cy="135" rx="60" ry="118" fill="url(#cy)" filter="url(#bl2)"/><g filter="url(#bl)"><ellipse cx="53" cy="157" rx="64" ry="89" fill="url(#h4)"/></g></svg><path d="M902.55 525.15 H906.45 L934.45 598.45 H930.55 Z M930.55 525.15 H934.45 L906.45 598.45 H902.55 Z" fill="#dc2b1c"/><path d="M933.95 525.15 H937.85 L965.85 598.45 H961.95 Z M961.95 525.15 H965.85 L937.85 598.45 H933.95 Z" fill="#dc2b1c"/><path d="M965.15 525.15 H969.05 L997.05 598.45 H993.15 Z M993.15 525.15 H997.05 L969.05 598.45 H965.15 Z" fill="#dc2b1c"/><path d="M996.55 525.15 H1000.45 L1028.45 598.45 H1024.55 Z M1024.55 525.15 H1028.45 L1000.45 598.45 H996.55 Z" fill="#dc2b1c"/><svg x="1182.10" y="141.90" width="28.00" height="73.30" viewBox="0 0 100 262" preserveAspectRatio="none"><use href="#m"/><g filter="url(#bl)"><ellipse cx="23" cy="136" rx="11" ry="16" fill="url(#p1)"/><ellipse cx="57" cy="126" rx="8" ry="8" fill="url(#p1)"/><ellipse cx="57" cy="252" rx="8" ry="8" fill="url(#p1)"/><ellipse cx="37" cy="86" rx="5" ry="5" fill="url(#p1)"/></g></svg><svg x="1213.50" y="141.90" width="28.00" height="73.30" viewBox="0 0 100 262" preserveAspectRatio="none"><use href="#m"/><g filter="url(#bl)"><ellipse cx="40" cy="128" rx="14" ry="16" fill="url(#p1)"/><ellipse cx="13" cy="183" rx="11" ry="13" fill="url(#p1)"/><ellipse cx="25" cy="79" rx="5" ry="5" fill="url(#p1)"/></g></svg><svg x="1244.90" y="141.90" width="28.00" height="73.30" viewBox="0 0 100 262" preserveAspectRatio="none"><use href="#m"/><g filter="url(#bl)"><ellipse cx="31" cy="73" rx="12" ry="13" fill="url(#p1)"/><ellipse cx="83" cy="196" rx="9" ry="10" fill="url(#p1)"/><ellipse cx="13" cy="191" rx="7" ry="8" fill="url(#p1)"/><ellipse cx="45" cy="131" rx="10" ry="5" fill="url(#p1)"/><ellipse cx="50" cy="254" rx="8" ry="8" fill="url(#p2)"/></g></svg><svg x="1276.10" y="141.90" width="28.00" height="73.30" viewBox="0 0 100 262" preserveAspectRatio="none"><use href="#m"/><g filter="url(#bl)"><ellipse cx="47" cy="39" rx="6" ry="8" fill="url(#p1)"/><ellipse cx="15" cy="173" rx="5" ry="5" fill="url(#p1)"/></g></svg><svg x="1307.50" y="141.90" width="28.00" height="73.30" viewBox="0 0 100 262" preserveAspectRatio="none"><use href="#m"/><g filter="url(#bl)"><ellipse cx="33" cy="126" rx="13" ry="14" fill="url(#p1)"/><ellipse cx="85" cy="191" rx="11" ry="14" fill="url(#p2)"/><ellipse cx="15" cy="202" rx="5" ry="5" fill="url(#p1)"/></g></svg><svg x="1182.10" y="218.55" width="28.00" height="73.30" viewBox="0 0 100 262" preserveAspectRatio="none"><use href="#m"/><g filter="url(#bl)"><ellipse cx="44" cy="89" rx="14" ry="14" fill="url(#p2)"/></g></svg><svg x="1213.50" y="218.55" width="28.00" height="73.30" viewBox="0 0 100 262" preserveAspectRatio="none"><use href="#m"/><g filter="url(#bl)"><ellipse cx="60" cy="202" rx="22" ry="18" fill="url(#p1)"/></g></svg><svg x="1244.90" y="218.55" width="28.00" height="73.30" viewBox="0 0 100 262" preserveAspectRatio="none"><use href="#m"/><g filter="url(#bl)"><ellipse cx="75" cy="134" rx="6" ry="7" fill="url(#p1)"/></g></svg><svg x="1276.10" y="218.55" width="28.00" height="73.30" viewBox="0 0 100 262" preserveAspectRatio="none"><use href="#m"/><g filter="url(#bl)"><ellipse cx="45" cy="34" rx="11" ry="13" fill="url(#p3)"/></g></svg><svg x="1307.50" y="218.55" width="28.00" height="73.30" viewBox="0 0 100 262" preserveAspectRatio="none"><use href="#m"/><g filter="url(#bl)"><ellipse cx="65" cy="66" rx="5" ry="5" fill="url(#p1)"/></g></svg><svg x="1182.10" y="295.20" width="28.00" height="73.30" viewBox="0 0 100 262" preserveAspectRatio="none"><use href="#m"/><g filter="url(#bl)"><ellipse cx="44" cy="47" rx="22" ry="16" fill="url(#p1)"/><ellipse cx="82" cy="113" rx="8" ry="9" fill="url(#p1)"/><ellipse cx="60" cy="86" rx="5" ry="5" fill="url(#p1)"/></g></svg><svg x="1213.50" y="295.20" width="28.00" height="73.30" viewBox="0 0 100 262" preserveAspectRatio="none"><use href="#m"/><g filter="url(#bl)"><ellipse cx="48" cy="202" rx="42" ry="31" fill="url(#p2)"/><ellipse cx="42" cy="113" rx="7" ry="8" fill="url(#p1)"/><ellipse cx="68" cy="121" rx="6" ry="7" fill="url(#p1)"/></g></svg><svg x="1244.90" y="295.20" width="28.00" height="73.30" viewBox="0 0 100 262" preserveAspectRatio="none"><use href="#m"/><g filter="url(#bl)"><ellipse cx="82" cy="131" rx="11" ry="12" fill="url(#p1)"/></g></svg><svg x="1276.10" y="295.20" width="28.00" height="73.30" viewBox="0 0 100 262" preserveAspectRatio="none"><use href="#m"/><g filter="url(#bl)"><ellipse cx="45" cy="42" rx="9" ry="10" fill="url(#p2)"/><ellipse cx="30" cy="186" rx="16" ry="21" fill="url(#p1)"/></g></svg><svg x="1307.50" y="295.20" width="28.00" height="73.30" viewBox="0 0 100 262" preserveAspectRatio="none"><use href="#m"/><g filter="url(#bl)"><ellipse cx="78" cy="123" rx="9" ry="12" fill="url(#p2)"/></g></svg><svg x="1182.10" y="371.85" width="28.00" height="73.30" viewBox="0 0 100 262" preserveAspectRatio="none"><use href="#m"/><g filter="url(#bl)"><ellipse cx="48" cy="52" rx="30" ry="26" fill="url(#p1)"/><ellipse cx="46" cy="126" rx="24" ry="24" fill="url(#p3)"/></g></svg><svg x="1213.50" y="371.85" width="28.00" height="73.30" viewBox="0 0 100 262" preserveAspectRatio="none"><use href="#m"/><g filter="url(#bl)"><ellipse cx="45" cy="31" rx="15" ry="13" fill="url(#p1)"/><ellipse cx="52" cy="118" rx="32" ry="24" fill="url(#p2)"/><ellipse cx="52" cy="181" rx="44" ry="39" fill="url(#p4)"/></g></svg><svg x="1244.90" y="371.85" width="28.00" height="73.30" viewBox="0 0 100 262" preserveAspectRatio="none"><use href="#m"/><g filter="url(#bl)"><ellipse cx="70" cy="115" rx="13" ry="13" fill="url(#p1)"/></g></svg><svg x="1276.10" y="371.85" width="28.00" height="73.30" viewBox="0 0 100 262" preserveAspectRatio="none"><use href="#m"/><g filter="url(#bl)"><ellipse cx="60" cy="31" rx="8" ry="8" fill="url(#p1)"/><ellipse cx="68" cy="118" rx="20" ry="13" fill="url(#p1)"/></g></svg><svg x="1307.50" y="371.85" width="28.00" height="73.30" viewBox="0 0 100 262" preserveAspectRatio="none"><use href="#m"/><g filter="url(#bl)"><ellipse cx="73" cy="121" rx="12" ry="13" fill="url(#p1)"/><ellipse cx="30" cy="141" rx="12" ry="12" fill="url(#p1)"/></g></svg><svg x="1182.10" y="448.50" width="28.00" height="73.30" viewBox="0 0 100 262" preserveAspectRatio="none"><use href="#m"/><g filter="url(#bl)"><ellipse cx="38" cy="123" rx="30" ry="26" fill="url(#p3)"/></g></svg><svg x="1213.50" y="448.50" width="28.00" height="73.30" viewBox="0 0 100 262" preserveAspectRatio="none"><use href="#m"/><g filter="url(#bl)"><ellipse cx="55" cy="157" rx="45" ry="73" fill="url(#p1)"/><ellipse cx="35" cy="183" rx="34" ry="39" fill="url(#p6)"/></g></svg><svg x="1244.90" y="448.50" width="28.00" height="73.30" viewBox="0 0 100 262" preserveAspectRatio="none"><use href="#m"/><g filter="url(#bl)"><ellipse cx="28" cy="136" rx="27" ry="24" fill="url(#p2)"/></g></svg><svg x="1276.10" y="448.50" width="28.00" height="73.30" viewBox="0 0 100 262" preserveAspectRatio="none"><use href="#m"/><g filter="url(#bl)"><ellipse cx="64" cy="110" rx="27" ry="17" fill="url(#p2)"/></g></svg><svg x="1307.50" y="448.50" width="28.00" height="73.30" viewBox="0 0 100 262" preserveAspectRatio="none"><use href="#m"/><g filter="url(#bl)"><ellipse cx="83" cy="121" rx="7" ry="10" fill="url(#p1)"/></g></svg><svg x="1182.10" y="525.15" width="28.00" height="73.30" viewBox="0 0 100 262" preserveAspectRatio="none"><use href="#m"/><g filter="url(#bl)"><ellipse cx="48" cy="113" rx="32" ry="31" fill="url(#p3)"/></g></svg><svg x="1213.50" y="525.15" width="28.00" height="73.30" viewBox="0 0 100 262" preserveAspectRatio="none"><use href="#m"/><g filter="url(#bl)"><ellipse cx="55" cy="131" rx="36" ry="24" fill="url(#p2)"/><ellipse cx="44" cy="199" rx="42" ry="39" fill="url(#p4)"/></g></svg><svg x="1244.90" y="525.15" width="28.00" height="73.30" viewBox="0 0 100 262" preserveAspectRatio="none"><use href="#m"/><g filter="url(#bl)"><ellipse cx="46" cy="144" rx="42" ry="34" fill="url(#p2)"/></g></svg><svg x="1276.10" y="525.15" width="28.00" height="73.30" viewBox="0 0 100 262" preserveAspectRatio="none"><use href="#m"/><g filter="url(#bl)"><ellipse cx="45" cy="121" rx="36" ry="20" fill="url(#p2)"/></g></svg><svg x="1307.50" y="525.15" width="28.00" height="73.30" viewBox="0 0 100 262" preserveAspectRatio="none"><use href="#m"/><g filter="url(#bl)"><ellipse cx="75" cy="131" rx="6" ry="7" fill="url(#p1)"/></g></svg><svg x="1182.10" y="601.80" width="28.00" height="73.30" viewBox="0 0 100 262" preserveAspectRatio="none"><use href="#m"/><g filter="url(#bl)"><ellipse cx="55" cy="110" rx="50" ry="68" fill="url(#p4)"/><ellipse cx="30" cy="223" rx="8" ry="8" fill="url(#p1)"/><ellipse cx="75" cy="223" rx="8" ry="8" fill="url(#p1)"/></g></svg><svg x="1213.50" y="601.80" width="28.00" height="73.30" viewBox="0 0 100 262" preserveAspectRatio="none"><use href="#m"/><g filter="url(#bl)"><ellipse cx="55" cy="115" rx="42" ry="31" fill="url(#p3)"/><ellipse cx="38" cy="170" rx="10" ry="10" fill="url(#p1)"/></g></svg><svg x="1244.90" y="601.80" width="28.00" height="73.30" viewBox="0 0 100 262" preserveAspectRatio="none"><use href="#m"/><g filter="url(#bl)"><ellipse cx="40" cy="128" rx="46" ry="39" fill="url(#p2)"/></g></svg><svg x="1276.10" y="601.80" width="28.00" height="73.30" viewBox="0 0 100 262" preserveAspectRatio="none"><use href="#m"/><g filter="url(#bl)"><ellipse cx="48" cy="110" rx="48" ry="21" fill="url(#p2)"/></g></svg><svg x="1307.50" y="601.80" width="28.00" height="73.30" viewBox="0 0 100 262" preserveAspectRatio="none"><use href="#m"/><g filter="url(#bl)"><ellipse cx="30" cy="110" rx="12" ry="13" fill="url(#p1)"/><ellipse cx="78" cy="110" rx="9" ry="13" fill="url(#p1)"/></g></svg><svg x="1182.10" y="678.45" width="28.00" height="73.30" viewBox="0 0 100 262" preserveAspectRatio="none"><use href="#m"/><g filter="url(#bl)"><ellipse cx="50" cy="131" rx="56" ry="97" fill="url(#p1)"/><ellipse cx="50" cy="131" rx="46" ry="73" fill="url(#bu)"/><ellipse cx="48" cy="123" rx="40" ry="41" fill="url(#cy)"/><ellipse cx="48" cy="123" rx="30" ry="30" fill="url(#h4)"/></g></svg><svg x="1213.50" y="678.45" width="28.00" height="73.30" viewBox="0 0 100 262" preserveAspectRatio="none"><use href="#m"/><g filter="url(#bl)"><ellipse cx="50" cy="131" rx="52" ry="84" fill="url(#p1)"/><ellipse cx="50" cy="131" rx="44" ry="66" fill="url(#bu)"/><ellipse cx="51" cy="117" rx="46" ry="24" fill="url(#cy)"/><ellipse cx="51" cy="117" rx="40" ry="14" fill="url(#h3)"/><ellipse cx="55" cy="117" rx="12" ry="5" fill="url(#h5)"/><ellipse cx="57" cy="181" rx="14" ry="14" fill="url(#bu)"/></g></svg><svg x="1244.90" y="678.45" width="28.00" height="73.30" viewBox="0 0 100 262" preserveAspectRatio="none"><use href="#m"/><g filter="url(#bl)"><ellipse cx="50" cy="136" rx="52" ry="79" fill="url(#p1)"/><ellipse cx="35" cy="131" rx="36" ry="52" fill="url(#bu)"/><ellipse cx="20" cy="136" rx="13" ry="13" fill="url(#cy)"/></g></svg><svg x="1276.10" y="678.45" width="28.00" height="73.30" viewBox="0 0 100 262" preserveAspectRatio="none"><use href="#m"/><g filter="url(#bl)"><ellipse cx="45" cy="126" rx="38" ry="34" fill="url(#p1)"/><ellipse cx="40" cy="131" rx="25" ry="21" fill="url(#bu)"/><ellipse cx="30" cy="189" rx="8" ry="9" fill="url(#p1)"/><ellipse cx="45" cy="236" rx="10" ry="5" fill="url(#p1)"/></g></svg><svg x="1307.50" y="678.45" width="28.00" height="73.30" viewBox="0 0 100 262" preserveAspectRatio="none"><use href="#m"/><g filter="url(#bl)"><ellipse cx="50" cy="131" rx="52" ry="63" fill="url(#p1)"/><ellipse cx="12" cy="196" rx="10" ry="13" fill="url(#p1)"/><ellipse cx="45" cy="126" rx="40" ry="39" fill="url(#bu)"/><ellipse cx="80" cy="128" rx="26" ry="29" fill="url(#cy)"/><ellipse cx="82" cy="128" rx="17" ry="20" fill="url(#h5)"/></g></svg><svg x="1182.10" y="755.10" width="28.00" height="73.30" viewBox="0 0 100 262" preserveAspectRatio="none"><use href="#m"/><g filter="url(#bl)"><ellipse cx="52" cy="110" rx="50" ry="26" fill="url(#bu)"/><ellipse cx="25" cy="107" rx="18" ry="16" fill="url(#cy)"/><ellipse cx="25" cy="107" rx="10" ry="9" fill="url(#h3)"/><ellipse cx="75" cy="109" rx="20" ry="20" fill="url(#cy)"/><ellipse cx="75" cy="109" rx="12" ry="13" fill="url(#h5)"/></g></svg><svg x="1213.50" y="755.10" width="28.00" height="73.30" viewBox="0 0 100 262" preserveAspectRatio="none"><use href="#m"/><g filter="url(#bl)"><ellipse cx="50" cy="131" rx="52" ry="94" fill="url(#bu)"/><ellipse cx="54" cy="117" rx="52" ry="52" fill="url(#cy)"/><ellipse cx="54" cy="117" rx="44" ry="39" fill="url(#h6)"/><ellipse cx="39" cy="183" rx="20" ry="21" fill="url(#cy)"/></g></svg><svg x="1244.90" y="755.10" width="28.00" height="73.30" viewBox="0 0 100 262" preserveAspectRatio="none"><use href="#m"/><g filter="url(#bl)"><ellipse cx="50" cy="131" rx="52" ry="63" fill="url(#bu)"/><ellipse cx="30" cy="123" rx="40" ry="45" fill="url(#cy)"/><ellipse cx="25" cy="123" rx="28" ry="34" fill="url(#h5)"/></g></svg><svg x="1276.10" y="755.10" width="28.00" height="73.30" viewBox="0 0 100 262" preserveAspectRatio="none"><use href="#m"/><g filter="url(#bl)"><ellipse cx="50" cy="126" rx="52" ry="79" fill="url(#bu)"/><ellipse cx="54" cy="113" rx="42" ry="50" fill="url(#cy)"/><ellipse cx="54" cy="113" rx="31" ry="38" fill="url(#h6)"/><ellipse cx="78" cy="173" rx="10" ry="10" fill="url(#cy)"/></g></svg><svg x="1307.50" y="755.10" width="28.00" height="73.30" viewBox="0 0 100 262" preserveAspectRatio="none"><use href="#m"/><g filter="url(#bl)"><ellipse cx="55" cy="110" rx="52" ry="39" fill="url(#bu)"/><ellipse cx="50" cy="110" rx="46" ry="26" fill="url(#cy)"/><ellipse cx="30" cy="115" rx="15" ry="13" fill="url(#h4)"/><ellipse cx="78" cy="105" rx="17" ry="16" fill="url(#h4)"/></g></svg><path d="M1179.35 831.75 H1183.25 L1212.85 905.05 H1208.95 Z M1208.95 831.75 H1212.85 L1183.25 905.05 H1179.35 Z" fill="#dc2b1c"/><svg x="1213.50" y="831.75" width="28.00" height="73.30" viewBox="0 0 100 262" preserveAspectRatio="none"><rect width="100" height="262" fill="#4a50b8"/><ellipse cx="50" cy="135" rx="60" ry="118" fill="url(#cy)" filter="url(#bl2)"/><g filter="url(#bl)"><ellipse cx="47" cy="157" rx="58" ry="110" fill="url(#h6)"/><ellipse cx="50" cy="45" rx="6" ry="7" fill="url(#h3)"/></g></svg><svg x="1244.90" y="831.75" width="28.00" height="73.30" viewBox="0 0 100 262" preserveAspectRatio="none"><rect width="100" height="262" fill="#4a50b8"/><ellipse cx="50" cy="135" rx="60" ry="118" fill="url(#cy)" filter="url(#bl2)"/><g filter="url(#bl)"><ellipse cx="50" cy="131" rx="64" ry="52" fill="url(#h4)"/></g></svg><svg x="1276.10" y="831.75" width="28.00" height="73.30" viewBox="0 0 100 262" preserveAspectRatio="none"><rect width="100" height="262" fill="#4a50b8"/><ellipse cx="50" cy="135" rx="60" ry="118" fill="url(#cy)" filter="url(#bl2)"/><g filter="url(#bl)"><ellipse cx="55" cy="152" rx="58" ry="92" fill="url(#h5)"/></g></svg><svg x="1307.50" y="831.75" width="28.00" height="73.30" viewBox="0 0 100 262" preserveAspectRatio="none"><rect width="100" height="262" fill="#4a50b8"/><ellipse cx="50" cy="135" rx="60" ry="118" fill="url(#cy)" filter="url(#bl2)"/><g filter="url(#bl)"><ellipse cx="60" cy="123" rx="62" ry="34" fill="url(#h4)"/></g></svg><path d="M1211.55 908.40 H1215.45 L1243.45 981.70 H1239.55 Z M1239.55 908.40 H1243.45 L1215.45 981.70 H1211.55 Z" fill="#dc2b1c"/><path d="M1242.95 908.40 H1246.85 L1274.85 981.70 H1270.95 Z M1270.95 908.40 H1274.85 L1246.85 981.70 H1242.95 Z" fill="#dc2b1c"/><path d="M1274.15 908.40 H1278.05 L1306.05 981.70 H1302.15 Z M1302.15 908.40 H1306.05 L1278.05 981.70 H1274.15 Z" fill="#dc2b1c"/><svg x="1307.50" y="908.40" width="28.00" height="73.30" viewBox="0 0 100 262" preserveAspectRatio="none"><rect width="100" height="262" fill="#0b0b0b"/><use href="#m" x="12" y="20" width="76" height="225"/><g filter="url(#bl)"><ellipse cx="50" cy="126" rx="50" ry="66" fill="url(#bu)"/><ellipse cx="50" cy="131" rx="46" ry="52" fill="url(#cy)"/><ellipse cx="52" cy="131" rx="36" ry="39" fill="url(#h4)"/></g></svg><path d="M1305.55 985.05 H1309.45 L1337.45 1058.35 H1333.55 Z M1333.55 985.05 H1337.45 L1309.45 1058.35 H1305.55 Z" fill="#dc2b1c"/><svg x="170.30" y="1268.60" width="31.00" height="81.30" viewBox="0 0 100 262" preserveAspectRatio="none"><use href="#mf"/><g filter="url(#bl)"><ellipse cx="50" cy="128" rx="50" ry="66" fill="url(#bu2)"/><ellipse cx="50" cy="128" rx="49" ry="56" fill="url(#cy2)"/><ellipse cx="50" cy="128" rx="45" ry="46" fill="url(#h5)"/><ellipse cx="13" cy="228" rx="5" ry="5" fill="url(#bu2)"/><ellipse cx="85" cy="231" rx="5" ry="5" fill="url(#bu2)"/></g></svg><svg x="205.40" y="1268.60" width="31.00" height="81.30" viewBox="0 0 100 262" preserveAspectRatio="none"><use href="#mf"/><g filter="url(#bl)"><ellipse cx="68" cy="113" rx="20" ry="26" fill="url(#bu2)"/><ellipse cx="68" cy="113" rx="19" ry="21" fill="url(#cy2)"/><ellipse cx="68" cy="113" rx="10" ry="12" fill="url(#h5)"/></g></svg><svg x="240.20" y="1268.60" width="31.00" height="81.30" viewBox="0 0 100 262" preserveAspectRatio="none"><use href="#mf"/><g filter="url(#bl)"><ellipse cx="11" cy="198" rx="9" ry="10" fill="url(#bu2)"/><ellipse cx="11" cy="198" rx="4" ry="5" fill="url(#cy2)"/></g></svg><svg x="274.90" y="1268.60" width="31.00" height="81.30" viewBox="0 0 100 262" preserveAspectRatio="none"><use href="#mf"/><g filter="url(#bl)"><ellipse cx="54" cy="105" rx="27" ry="30" fill="url(#bu2)"/><ellipse cx="54" cy="105" rx="22" ry="24" fill="url(#cy2)"/><ellipse cx="54" cy="105" rx="13" ry="15" fill="url(#h6)"/></g></svg><svg x="170.30" y="1354.10" width="31.00" height="81.30" viewBox="0 0 100 262" preserveAspectRatio="none"><use href="#mf"/><g filter="url(#bl)"><ellipse cx="42" cy="123" rx="46" ry="49" fill="url(#cy2)"/><ellipse cx="42" cy="123" rx="52" ry="56" fill="url(#h6)"/></g></svg><svg x="205.40" y="1354.10" width="31.00" height="81.30" viewBox="0 0 100 262" preserveAspectRatio="none"><use href="#mf"/><g filter="url(#bl)"><ellipse cx="74" cy="102" rx="23" ry="29" fill="url(#bu2)"/><ellipse cx="74" cy="102" rx="23" ry="26" fill="url(#cy2)"/><ellipse cx="74" cy="102" rx="14" ry="16" fill="url(#h3)"/></g></svg><svg x="240.20" y="1354.10" width="31.00" height="81.30" viewBox="0 0 100 262" preserveAspectRatio="none"><use href="#mf"/><g filter="url(#bl)"><ellipse cx="50" cy="118" rx="52" ry="63" fill="url(#bu2)"/><ellipse cx="30" cy="178" rx="30" ry="39" fill="url(#bu2)"/><ellipse cx="67" cy="114" rx="29" ry="36" fill="url(#cy2)"/><ellipse cx="67" cy="114" rx="28" ry="34" fill="url(#h5)"/><ellipse cx="14" cy="179" rx="20" ry="26" fill="url(#cy2)"/><ellipse cx="14" cy="179" rx="16" ry="26" fill="url(#h4)"/></g></svg><svg x="274.90" y="1354.10" width="31.00" height="81.30" viewBox="0 0 100 262" preserveAspectRatio="none"><use href="#mf"/><g filter="url(#bl)"><ellipse cx="20" cy="123" rx="36" ry="45" fill="url(#bu2)"/><ellipse cx="20" cy="123" rx="31" ry="37" fill="url(#cy2)"/><ellipse cx="20" cy="123" rx="22" ry="27" fill="url(#h6)"/></g></svg><svg x="170.30" y="1439.60" width="31.00" height="81.30" viewBox="0 0 100 262" preserveAspectRatio="none"><use href="#mf"/><g filter="url(#bl)"><ellipse cx="44" cy="119" rx="50" ry="73" fill="url(#bu2)"/><ellipse cx="44" cy="119" rx="48" ry="55" fill="url(#cy2)"/><ellipse cx="44" cy="119" rx="39" ry="45" fill="url(#h7)"/><ellipse cx="70" cy="210" rx="5" ry="10" fill="url(#bu2)"/></g></svg><svg x="205.40" y="1439.60" width="31.00" height="81.30" viewBox="0 0 100 262" preserveAspectRatio="none"><use href="#mf"/><g filter="url(#bl)"><ellipse cx="77" cy="106" rx="22" ry="29" fill="url(#bu2)"/><ellipse cx="77" cy="106" rx="19" ry="21" fill="url(#cy2)"/><ellipse cx="77" cy="106" rx="10" ry="12" fill="url(#h4)"/></g></svg><svg x="240.20" y="1439.60" width="31.00" height="81.30" viewBox="0 0 100 262" preserveAspectRatio="none"><use href="#mf"/><g filter="url(#bl)"><ellipse cx="40" cy="131" rx="45" ry="79" fill="url(#bu2)"/><ellipse cx="31" cy="114" rx="29" ry="33" fill="url(#cy2)"/><ellipse cx="31" cy="114" rx="26" ry="30" fill="url(#h4)"/><ellipse cx="22" cy="183" rx="29" ry="33" fill="url(#cy2)"/><ellipse cx="22" cy="183" rx="28" ry="34" fill="url(#h4)"/></g></svg><svg x="274.90" y="1439.60" width="31.00" height="81.30" viewBox="0 0 100 262" preserveAspectRatio="none"><use href="#mf"/><g filter="url(#bl)"><ellipse cx="30" cy="131" rx="40" ry="52" fill="url(#bu2)"/><ellipse cx="30" cy="131" rx="37" ry="40" fill="url(#cy2)"/><ellipse cx="30" cy="131" rx="28" ry="30" fill="url(#h6)"/></g></svg><svg x="205.40" y="1525.10" width="31.00" height="81.30" viewBox="0 0 100 262" preserveAspectRatio="none"><use href="#mf"/><g filter="url(#bl)"><ellipse cx="84" cy="107" rx="25" ry="31" fill="url(#bu2)"/><ellipse cx="84" cy="107" rx="18" ry="21" fill="url(#cy2)"/><ellipse cx="84" cy="107" rx="9" ry="12" fill="url(#h3)"/></g></svg><svg x="240.20" y="1525.10" width="31.00" height="81.30" viewBox="0 0 100 262" preserveAspectRatio="none"><use href="#mf"/><g filter="url(#bl)"><ellipse cx="50" cy="131" rx="50" ry="84" fill="url(#bu2)"/><ellipse cx="30" cy="131" rx="30" ry="52" fill="url(#cy2)"/><ellipse cx="72" cy="105" rx="29" ry="39" fill="url(#cy2)"/><ellipse cx="72" cy="105" rx="26" ry="37" fill="url(#h5)"/><ellipse cx="16" cy="165" rx="20" ry="41" fill="url(#cy2)"/><ellipse cx="16" cy="165" rx="18" ry="43" fill="url(#h4)"/></g></svg><svg x="274.90" y="1525.10" width="31.00" height="81.30" viewBox="0 0 100 262" preserveAspectRatio="none"><use href="#mf"/><g filter="url(#bl)"><ellipse cx="47" cy="143" rx="45" ry="52" fill="url(#bu2)"/><ellipse cx="47" cy="143" rx="40" ry="39" fill="url(#cy2)"/><ellipse cx="47" cy="143" rx="31" ry="29" fill="url(#h6)"/></g></svg><svg x="205.40" y="1610.60" width="31.00" height="81.30" viewBox="0 0 100 262" preserveAspectRatio="none"><use href="#mf"/><g filter="url(#bl)"><ellipse cx="78" cy="107" rx="35" ry="42" fill="url(#bu2)"/><ellipse cx="78" cy="107" rx="23" ry="24" fill="url(#cy2)"/><ellipse cx="78" cy="107" rx="14" ry="15" fill="url(#h5)"/></g></svg><svg x="240.20" y="1610.60" width="31.00" height="81.30" viewBox="0 0 100 262" preserveAspectRatio="none"><use href="#mf"/><g filter="url(#bl)"><ellipse cx="50" cy="131" rx="52" ry="86" fill="url(#bu2)"/><ellipse cx="40" cy="131" rx="35" ry="58" fill="url(#cy2)"/><ellipse cx="69" cy="117" rx="31" ry="39" fill="url(#cy2)"/><ellipse cx="69" cy="117" rx="32" ry="38" fill="url(#h5)"/><ellipse cx="21" cy="186" rx="24" ry="39" fill="url(#cy2)"/><ellipse cx="21" cy="186" rx="22" ry="40" fill="url(#h4)"/></g></svg><svg x="274.90" y="1610.60" width="31.00" height="81.30" viewBox="0 0 100 262" preserveAspectRatio="none"><use href="#mf"/><g filter="url(#bl)"><ellipse cx="40" cy="139" rx="50" ry="79" fill="url(#bu2)"/><ellipse cx="28" cy="139" rx="42" ry="59" fill="url(#cy2)"/><ellipse cx="28" cy="139" rx="33" ry="49" fill="url(#h6)"/></g></svg><svg x="205.40" y="1696.10" width="31.00" height="81.30" viewBox="0 0 100 262" preserveAspectRatio="none"><use href="#mf"/><g filter="url(#bl)"><ellipse cx="50" cy="122" rx="50" ry="62" fill="url(#bu2)"/><ellipse cx="57" cy="122" rx="47" ry="50" fill="url(#cy2)"/><ellipse cx="57" cy="122" rx="38" ry="40" fill="url(#h4)"/></g></svg><svg x="240.20" y="1696.10" width="31.00" height="81.30" viewBox="0 0 100 262" preserveAspectRatio="none"><use href="#mf"/><g filter="url(#bl)"><ellipse cx="50" cy="131" rx="56" ry="89" fill="url(#bu2)"/><ellipse cx="40" cy="123" rx="49" ry="64" fill="url(#cy2)"/><ellipse cx="40" cy="123" rx="44" ry="56" fill="url(#h4)"/><ellipse cx="33" cy="178" rx="14" ry="26" fill="url(#h4)"/></g></svg><svg x="274.90" y="1696.10" width="31.00" height="81.30" viewBox="0 0 100 262" preserveAspectRatio="none"><use href="#mf"/><g filter="url(#bl)"><ellipse cx="40" cy="131" rx="50" ry="73" fill="url(#bu2)"/><ellipse cx="28" cy="131" rx="43" ry="54" fill="url(#cy2)"/><ellipse cx="28" cy="131" rx="34" ry="45" fill="url(#h6)"/></g></svg><svg x="205.40" y="1781.60" width="31.00" height="81.30" viewBox="0 0 100 262" preserveAspectRatio="none"><use href="#mf"/><g filter="url(#bl)"><ellipse cx="50" cy="115" rx="58" ry="81" fill="url(#pu2)"/><ellipse cx="45" cy="113" rx="54" ry="68" fill="url(#bu2)"/><ellipse cx="45" cy="113" rx="53" ry="65" fill="url(#cy2)"/><ellipse cx="45" cy="113" rx="54" ry="56" fill="url(#h4)"/></g></svg><svg x="240.20" y="1781.60" width="31.00" height="81.30" viewBox="0 0 100 262" preserveAspectRatio="none"><use href="#mf"/><g filter="url(#bl)"><ellipse cx="50" cy="123" rx="58" ry="86" fill="url(#pu2)"/><ellipse cx="45" cy="123" rx="54" ry="79" fill="url(#bu2)"/><ellipse cx="40" cy="123" rx="53" ry="75" fill="url(#cy2)"/><ellipse cx="40" cy="123" rx="45" ry="65" fill="url(#h4)"/><ellipse cx="35" cy="178" rx="16" ry="26" fill="url(#h4)"/></g></svg><svg x="274.90" y="1781.60" width="31.00" height="81.30" viewBox="0 0 100 262" preserveAspectRatio="none"><use href="#mf"/><g filter="url(#bl)"><ellipse cx="35" cy="131" rx="52" ry="79" fill="url(#pu2)"/><ellipse cx="35" cy="131" rx="46" ry="68" fill="url(#bu2)"/><ellipse cx="31" cy="131" rx="42" ry="56" fill="url(#cy2)"/><ellipse cx="31" cy="131" rx="33" ry="46" fill="url(#h6)"/></g></svg><path d="M168.65 1525.10 H172.55 L203.55 1606.40 H199.65 Z M199.65 1525.10 H203.55 L172.55 1606.40 H168.65 Z" fill="#dc2b1c"/><svg x="494.80" y="1268.60" width="31.00" height="81.30" viewBox="0 0 100 262" preserveAspectRatio="none"><use href="#mf"/><g filter="url(#bl)"><ellipse cx="68" cy="105" rx="12" ry="42" fill="url(#bu2)"/><ellipse cx="45" cy="225" rx="20" ry="16" fill="url(#bu2)"/><ellipse cx="45" cy="225" rx="8" ry="7" fill="url(#cy2)"/></g></svg><svg x="529.70" y="1268.60" width="31.00" height="81.30" viewBox="0 0 100 262" preserveAspectRatio="none"><use href="#mf"/><g filter="url(#bl)"><ellipse cx="20" cy="110" rx="14" ry="26" fill="url(#bu2)"/><ellipse cx="12" cy="183" rx="5" ry="8" fill="url(#bu2)"/></g></svg><svg x="564.50" y="1268.60" width="31.00" height="81.30" viewBox="0 0 100 262" preserveAspectRatio="none"><use href="#mf"/><g filter="url(#bl)"><ellipse cx="50" cy="118" rx="46" ry="79" fill="url(#cy2)"/><ellipse cx="60" cy="144" rx="39" ry="50" fill="url(#cy2)"/><ellipse cx="60" cy="144" rx="34" ry="40" fill="url(#h7)"/><ellipse cx="20" cy="225" rx="5" ry="5" fill="url(#bu2)"/></g></svg><svg x="599.10" y="1268.60" width="31.00" height="81.30" viewBox="0 0 100 262" preserveAspectRatio="none"><use href="#mf"/><g filter="url(#bl)"><ellipse cx="55" cy="45" rx="34" ry="21" fill="url(#bu2)"/><ellipse cx="60" cy="42" rx="22" ry="13" fill="url(#cy2)"/><ellipse cx="30" cy="196" rx="7" ry="8" fill="url(#bu2)"/></g></svg><svg x="634.00" y="1268.60" width="31.00" height="81.30" viewBox="0 0 100 262" preserveAspectRatio="none"><use href="#mf"/><g filter="url(#bl)"><ellipse cx="73" cy="123" rx="26" ry="31" fill="url(#bu2)"/><ellipse cx="81" cy="123" rx="23" ry="24" fill="url(#cy2)"/><ellipse cx="81" cy="123" rx="14" ry="15" fill="url(#h4)"/></g></svg><svg x="494.80" y="1354.10" width="31.00" height="81.30" viewBox="0 0 100 262" preserveAspectRatio="none"><use href="#mf"/></svg><svg x="529.70" y="1354.10" width="31.00" height="81.30" viewBox="0 0 100 262" preserveAspectRatio="none"><use href="#mf"/></svg><svg x="564.50" y="1354.10" width="31.00" height="81.30" viewBox="0 0 100 262" preserveAspectRatio="none"><use href="#mf"/><g filter="url(#bl)"><ellipse cx="50" cy="113" rx="50" ry="50" fill="url(#h6)"/></g></svg><svg x="599.10" y="1354.10" width="31.00" height="81.30" viewBox="0 0 100 262" preserveAspectRatio="none"><use href="#mf"/><g filter="url(#bl)"><ellipse cx="57" cy="34" rx="32" ry="21" fill="url(#bu2)"/><ellipse cx="50" cy="37" rx="20" ry="12" fill="url(#cy2)"/></g></svg><svg x="634.00" y="1354.10" width="31.00" height="81.30" viewBox="0 0 100 262" preserveAspectRatio="none"><use href="#mf"/><g filter="url(#bl)"><ellipse cx="50" cy="128" rx="26" ry="20" fill="url(#cy2)"/><ellipse cx="52" cy="128" rx="16" ry="12" fill="url(#h4)"/></g></svg><svg x="494.80" y="1439.60" width="31.00" height="81.30" viewBox="0 0 100 262" preserveAspectRatio="none"><use href="#mf"/></svg><svg x="529.70" y="1439.60" width="31.00" height="81.30" viewBox="0 0 100 262" preserveAspectRatio="none"><use href="#mf"/></svg><svg x="564.50" y="1439.60" width="31.00" height="81.30" viewBox="0 0 100 262" preserveAspectRatio="none"><use href="#mf"/><g filter="url(#bl)"><ellipse cx="77" cy="123" rx="20" ry="24" fill="url(#bu2)"/><ellipse cx="77" cy="123" rx="19" ry="21" fill="url(#cy2)"/><ellipse cx="77" cy="123" rx="10" ry="12" fill="url(#h4)"/></g></svg><svg x="599.10" y="1439.60" width="31.00" height="81.30" viewBox="0 0 100 262" preserveAspectRatio="none"><use href="#mf"/></svg><svg x="634.00" y="1439.60" width="31.00" height="81.30" viewBox="0 0 100 262" preserveAspectRatio="none"><use href="#mf"/></svg><svg x="494.80" y="1525.10" width="31.00" height="81.30" viewBox="0 0 100 262" preserveAspectRatio="none"><use href="#mf"/></svg><svg x="529.70" y="1525.10" width="31.00" height="81.30" viewBox="0 0 100 262" preserveAspectRatio="none"><use href="#mf"/></svg><svg x="564.50" y="1525.10" width="31.00" height="81.30" viewBox="0 0 100 262" preserveAspectRatio="none"><use href="#mf"/><g filter="url(#bl)"><ellipse cx="35" cy="128" rx="17" ry="18" fill="url(#bu2)"/><ellipse cx="35" cy="128" rx="17" ry="18" fill="url(#cy2)"/><ellipse cx="35" cy="128" rx="9" ry="10" fill="url(#h3)"/></g></svg><svg x="599.10" y="1525.10" width="31.00" height="81.30" viewBox="0 0 100 262" preserveAspectRatio="none"><use href="#mf"/></svg><svg x="634.00" y="1525.10" width="31.00" height="81.30" viewBox="0 0 100 262" preserveAspectRatio="none"><use href="#mf"/></svg><svg x="494.80" y="1610.60" width="31.00" height="81.30" viewBox="0 0 100 262" preserveAspectRatio="none"><use href="#mf"/></svg><svg x="529.70" y="1610.60" width="31.00" height="81.30" viewBox="0 0 100 262" preserveAspectRatio="none"><use href="#mf"/></svg><svg x="564.50" y="1610.60" width="31.00" height="81.30" viewBox="0 0 100 262" preserveAspectRatio="none"><use href="#mf"/><g filter="url(#bl)"><ellipse cx="36" cy="118" rx="4" ry="4" fill="url(#bu2)"/></g></svg><svg x="599.10" y="1610.60" width="31.00" height="81.30" viewBox="0 0 100 262" preserveAspectRatio="none"><use href="#mf"/></svg><svg x="634.00" y="1610.60" width="31.00" height="81.30" viewBox="0 0 100 262" preserveAspectRatio="none"><use href="#mf"/></svg><svg x="494.80" y="1696.10" width="31.00" height="81.30" viewBox="0 0 100 262" preserveAspectRatio="none"><use href="#mf"/></svg><svg x="529.70" y="1696.10" width="31.00" height="81.30" viewBox="0 0 100 262" preserveAspectRatio="none"><use href="#mf"/></svg><svg x="564.50" y="1696.10" width="31.00" height="81.30" viewBox="0 0 100 262" preserveAspectRatio="none"><use href="#mf"/></svg><svg x="599.10" y="1696.10" width="31.00" height="81.30" viewBox="0 0 100 262" preserveAspectRatio="none"><use href="#mf"/></svg><svg x="634.00" y="1696.10" width="31.00" height="81.30" viewBox="0 0 100 262" preserveAspectRatio="none"><use href="#mf"/></svg><svg x="494.80" y="1781.60" width="31.00" height="81.30" viewBox="0 0 100 262" preserveAspectRatio="none"><use href="#mf"/></svg><svg x="529.70" y="1781.60" width="31.00" height="81.30" viewBox="0 0 100 262" preserveAspectRatio="none"><use href="#mf"/></svg><svg x="564.50" y="1781.60" width="31.00" height="81.30" viewBox="0 0 100 262" preserveAspectRatio="none"><use href="#mf"/></svg><svg x="599.10" y="1781.60" width="31.00" height="81.30" viewBox="0 0 100 262" preserveAspectRatio="none"><use href="#mf"/></svg><svg x="634.00" y="1781.60" width="31.00" height="81.30" viewBox="0 0 100 262" preserveAspectRatio="none"><use href="#mf"/></svg>
</svg>
</body></html>
